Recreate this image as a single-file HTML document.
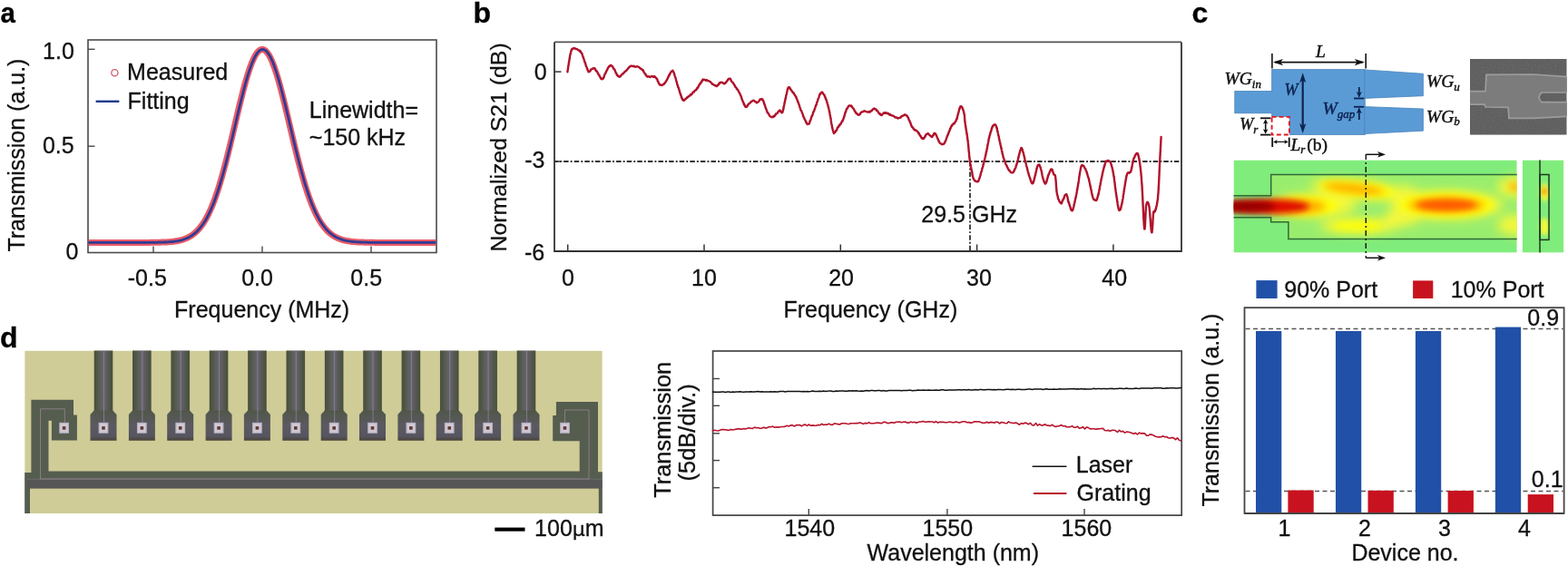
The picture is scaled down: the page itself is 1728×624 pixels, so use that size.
<!DOCTYPE html>
<html><head><meta charset="utf-8"><style>
html,body{margin:0;padding:0;background:#fff;width:1728px;height:624px;overflow:hidden}
svg{display:block;font-family:'Liberation Sans',Arial,sans-serif}
</style></head><body>
<svg width="1728" height="624" viewBox="0 0 1728 624">
<rect width="1728" height="624" fill="#fff"/>
<text x="0.40" y="24.50" font-size="32" text-anchor="start" fill="#000" stroke="#000" stroke-width="0.3" font-weight="bold" textLength="16.4" lengthAdjust="spacingAndGlyphs">a</text>
<rect x="97" y="44" width="384" height="234.5" fill="none" stroke="#4a4a4a" stroke-width="1.6"/>
<line x1="97.00" y1="54.30" x2="104.50" y2="54.30" stroke="#4a4a4a" stroke-width="1.4" />
<line x1="97.00" y1="161.20" x2="104.50" y2="161.20" stroke="#4a4a4a" stroke-width="1.4" />
<line x1="97.00" y1="267.70" x2="104.50" y2="267.70" stroke="#4a4a4a" stroke-width="1.4" />
<line x1="169.00" y1="278.50" x2="169.00" y2="271.50" stroke="#4a4a4a" stroke-width="1.4" />
<line x1="289.00" y1="278.50" x2="289.00" y2="271.50" stroke="#4a4a4a" stroke-width="1.4" />
<line x1="409.00" y1="278.50" x2="409.00" y2="271.50" stroke="#4a4a4a" stroke-width="1.4" />
<text x="47.12" y="64.50" font-size="25" text-anchor="start" fill="#111" stroke="#111" stroke-width="0.3" >1.0</text>
<text x="46.95" y="169.40" font-size="25" text-anchor="start" fill="#111" stroke="#111" stroke-width="0.3" >0.5</text>
<text x="72.62" y="286.20" font-size="25" text-anchor="start" fill="#111" stroke="#111" stroke-width="0.3" >0</text>
<text x="140.80" y="314.60" font-size="25" text-anchor="start" fill="#111" stroke="#111" stroke-width="0.3" >-0.5</text>
<text x="266.23" y="314.60" font-size="25" text-anchor="start" fill="#111" stroke="#111" stroke-width="0.3" >0.0</text>
<text x="386.32" y="314.60" font-size="25" text-anchor="start" fill="#111" stroke="#111" stroke-width="0.3" >0.5</text>
<text x="192.10" y="350.00" font-size="25" text-anchor="start" fill="#111" stroke="#111" stroke-width="0.3" >Frequency (MHz)</text>
<text transform="translate(26.60,277.60) rotate(-90)" font-size="25" fill="#111" stroke="#111" stroke-width="0.3">Transmission (a.u.)</text>
<circle cx="126.4" cy="80.2" r="3.6" fill="none" stroke="#d05a68" stroke-width="1.3"/>
<text x="140.10" y="88.40" font-size="25" text-anchor="start" fill="#111" stroke="#111" stroke-width="0.3" >Measured</text>
<line x1="105.60" y1="111.80" x2="131.40" y2="111.80" stroke="#1f3b8c" stroke-width="2.4" />
<text x="140.60" y="120.00" font-size="25" text-anchor="start" fill="#111" stroke="#111" stroke-width="0.3" >Fitting</text>
<text x="340.80" y="130.00" font-size="25" text-anchor="start" fill="#111" stroke="#111" stroke-width="0.3" >Linewidth=</text>
<text x="340.80" y="159.50" font-size="25" text-anchor="start" fill="#111" stroke="#111" stroke-width="0.3" >~150 kHz</text>
<defs><clipPath id="ca"><rect x="97.8" y="44.8" width="382.4" height="233"/></clipPath></defs>
<g clip-path="url(#ca)">
<polyline points="97.0,267.4 98.0,267.4 99.0,267.4 100.0,267.4 101.0,267.4 102.0,267.4 103.0,267.4 104.0,267.4 105.0,267.4 106.0,267.4 107.0,267.4 108.0,267.4 109.0,267.4 110.0,267.4 111.0,267.4 112.0,267.4 113.0,267.4 114.0,267.4 115.0,267.4 116.0,267.4 117.0,267.4 118.0,267.4 119.0,267.4 120.0,267.4 121.0,267.4 122.0,267.4 123.0,267.4 124.0,267.4 125.0,267.4 126.0,267.4 127.0,267.4 128.0,267.4 129.0,267.4 130.0,267.4 131.0,267.4 132.0,267.4 133.0,267.4 134.0,267.4 135.0,267.4 136.0,267.4 137.0,267.4 138.0,267.4 139.0,267.4 140.0,267.4 141.0,267.4 142.0,267.4 143.0,267.4 144.0,267.4 145.0,267.4 146.0,267.4 147.0,267.4 148.0,267.4 149.0,267.4 150.0,267.4 151.0,267.4 152.0,267.4 153.0,267.4 154.0,267.4 155.0,267.4 156.0,267.4 157.0,267.4 158.0,267.4 159.0,267.4 160.0,267.4 161.0,267.4 162.0,267.4 163.0,267.4 164.0,267.4 165.0,267.4 166.0,267.3 167.0,267.3 168.0,267.3 169.0,267.3 170.0,267.3 171.0,267.3 172.0,267.3 173.0,267.3 174.0,267.2 175.0,267.2 176.0,267.2 177.0,267.2 178.0,267.1 179.0,267.1 180.0,267.1 181.0,267.0 182.0,267.0 183.0,266.9 184.0,266.9 185.0,266.8 186.0,266.7 187.0,266.7 188.0,266.6 189.0,266.5 190.0,266.4 191.0,266.3 192.0,266.1 193.0,266.0 194.0,265.8 195.0,265.7 196.0,265.5 197.0,265.3 198.0,265.1 199.0,264.8 200.0,264.6 201.0,264.3 202.0,263.9 203.0,263.6 204.0,263.2 205.0,262.8 206.0,262.4 207.0,261.9 208.0,261.4 209.0,260.9 210.0,260.3 211.0,259.7 212.0,259.0 213.0,258.2 214.0,257.5 215.0,256.6 216.0,255.7 217.0,254.8 218.0,253.7 219.0,252.6 220.0,251.5 221.0,250.2 222.0,248.9 223.0,247.5 224.0,246.1 225.0,244.5 226.0,242.9 227.0,241.2 228.0,239.3 229.0,237.4 230.0,235.4 231.0,233.3 232.0,231.1 233.0,228.8 234.0,226.4 235.0,223.9 236.0,221.3 237.0,218.6 238.0,215.8 239.0,212.8 240.0,209.8 241.0,206.7 242.0,203.5 243.0,200.1 244.0,196.7 245.0,193.2 246.0,189.6 247.0,185.9 248.0,182.2 249.0,178.3 250.0,174.4 251.0,170.4 252.0,166.4 253.0,162.3 254.0,158.1 255.0,154.0 256.0,149.7 257.0,145.5 258.0,141.3 259.0,137.0 260.0,132.7 261.0,128.5 262.0,124.3 263.0,120.1 264.0,115.9 265.0,111.8 266.0,107.8 267.0,103.8 268.0,100.0 269.0,96.2 270.0,92.5 271.0,88.9 272.0,85.5 273.0,82.2 274.0,79.1 275.0,76.1 276.0,73.2 277.0,70.6 278.0,68.1 279.0,65.8 280.0,63.7 281.0,61.8 282.0,60.1 283.0,58.6 284.0,57.4 285.0,56.3 286.0,55.5 287.0,55.0 288.0,54.6 289.0,54.5 290.0,54.6 291.0,55.0 292.0,55.5 293.0,56.3 294.0,57.4 295.0,58.6 296.0,60.1 297.0,61.8 298.0,63.7 299.0,65.8 300.0,68.1 301.0,70.6 302.0,73.2 303.0,76.1 304.0,79.1 305.0,82.2 306.0,85.5 307.0,88.9 308.0,92.5 309.0,96.2 310.0,100.0 311.0,103.8 312.0,107.8 313.0,111.8 314.0,115.9 315.0,120.1 316.0,124.3 317.0,128.5 318.0,132.7 319.0,137.0 320.0,141.3 321.0,145.5 322.0,149.7 323.0,154.0 324.0,158.1 325.0,162.3 326.0,166.4 327.0,170.4 328.0,174.4 329.0,178.3 330.0,182.2 331.0,185.9 332.0,189.6 333.0,193.2 334.0,196.7 335.0,200.1 336.0,203.5 337.0,206.7 338.0,209.8 339.0,212.8 340.0,215.8 341.0,218.6 342.0,221.3 343.0,223.9 344.0,226.4 345.0,228.8 346.0,231.1 347.0,233.3 348.0,235.4 349.0,237.4 350.0,239.3 351.0,241.2 352.0,242.9 353.0,244.5 354.0,246.1 355.0,247.5 356.0,248.9 357.0,250.2 358.0,251.5 359.0,252.6 360.0,253.7 361.0,254.8 362.0,255.7 363.0,256.6 364.0,257.5 365.0,258.2 366.0,259.0 367.0,259.7 368.0,260.3 369.0,260.9 370.0,261.4 371.0,261.9 372.0,262.4 373.0,262.8 374.0,263.2 375.0,263.6 376.0,263.9 377.0,264.3 378.0,264.6 379.0,264.8 380.0,265.1 381.0,265.3 382.0,265.5 383.0,265.7 384.0,265.8 385.0,266.0 386.0,266.1 387.0,266.3 388.0,266.4 389.0,266.5 390.0,266.6 391.0,266.7 392.0,266.7 393.0,266.8 394.0,266.9 395.0,266.9 396.0,267.0 397.0,267.0 398.0,267.1 399.0,267.1 400.0,267.1 401.0,267.2 402.0,267.2 403.0,267.2 404.0,267.2 405.0,267.3 406.0,267.3 407.0,267.3 408.0,267.3 409.0,267.3 410.0,267.3 411.0,267.3 412.0,267.3 413.0,267.4 414.0,267.4 415.0,267.4 416.0,267.4 417.0,267.4 418.0,267.4 419.0,267.4 420.0,267.4 421.0,267.4 422.0,267.4 423.0,267.4 424.0,267.4 425.0,267.4 426.0,267.4 427.0,267.4 428.0,267.4 429.0,267.4 430.0,267.4 431.0,267.4 432.0,267.4 433.0,267.4 434.0,267.4 435.0,267.4 436.0,267.4 437.0,267.4 438.0,267.4 439.0,267.4 440.0,267.4 441.0,267.4 442.0,267.4 443.0,267.4 444.0,267.4 445.0,267.4 446.0,267.4 447.0,267.4 448.0,267.4 449.0,267.4 450.0,267.4 451.0,267.4 452.0,267.4 453.0,267.4 454.0,267.4 455.0,267.4 456.0,267.4 457.0,267.4 458.0,267.4 459.0,267.4 460.0,267.4 461.0,267.4 462.0,267.4 463.0,267.4 464.0,267.4 465.0,267.4 466.0,267.4 467.0,267.4 468.0,267.4 469.0,267.4 470.0,267.4 471.0,267.4 472.0,267.4 473.0,267.4 474.0,267.4 475.0,267.4 476.0,267.4 477.0,267.4 478.0,267.4 479.0,267.4 480.0,267.4 481.0,267.4" fill="none" stroke="#e5404e" stroke-width="7.0" stroke-linejoin="round" stroke-linecap="round" opacity="0.85"/>
<polyline points="97.4,267.4 98.4,267.4 99.4,267.4 100.4,267.4 101.4,267.4 102.4,267.4 103.4,267.4 104.4,267.4 105.4,267.4 106.4,267.4 107.4,267.4 108.4,267.4 109.4,267.4 110.4,267.4 111.4,267.4 112.4,267.4 113.4,267.4 114.4,267.4 115.4,267.4 116.4,267.4 117.4,267.4 118.4,267.4 119.4,267.4 120.4,267.4 121.4,267.4 122.4,267.4 123.4,267.4 124.4,267.4 125.4,267.4 126.4,267.4 127.4,267.4 128.4,267.4 129.4,267.4 130.4,267.4 131.4,267.4 132.4,267.4 133.4,267.4 134.4,267.4 135.4,267.4 136.4,267.4 137.4,267.4 138.4,267.4 139.4,267.4 140.4,267.4 141.4,267.4 142.4,267.4 143.4,267.4 144.4,267.4 145.4,267.4 146.4,267.4 147.4,267.4 148.4,267.4 149.4,267.4 150.4,267.4 151.4,267.4 152.4,267.4 153.4,267.4 154.4,267.4 155.4,267.4 156.4,267.4 157.4,267.4 158.4,267.4 159.4,267.4 160.4,267.4 161.4,267.4 162.4,267.4 163.4,267.4 164.4,267.4 165.4,267.4 166.4,267.3 167.4,267.3 168.4,267.3 169.4,267.3 170.4,267.3 171.4,267.3 172.4,267.3 173.4,267.3 174.4,267.2 175.4,267.2 176.4,267.2 177.4,267.2 178.4,267.1 179.4,267.1 180.4,267.1 181.4,267.0 182.4,267.0 183.4,266.9 184.4,266.9 185.4,266.8 186.4,266.7 187.4,266.7 188.4,266.6 189.4,266.5 190.4,266.4 191.4,266.3 192.4,266.1 193.4,266.0 194.4,265.8 195.4,265.7 196.4,265.5 197.4,265.3 198.4,265.1 199.4,264.8 200.4,264.6 201.4,264.3 202.4,263.9 203.4,263.6 204.4,263.2 205.4,262.8 206.4,262.4 207.4,261.9 208.4,261.4 209.4,260.9 210.4,260.3 211.4,259.7 212.4,259.0 213.4,258.2 214.4,257.5 215.4,256.6 216.4,255.7 217.4,254.8 218.4,253.7 219.4,252.6 220.4,251.5 221.4,250.2 222.4,248.9 223.4,247.5 224.4,246.1 225.4,244.5 226.4,242.9 227.4,241.2 228.4,239.3 229.4,237.4 230.4,235.4 231.4,233.3 232.4,231.1 233.4,228.8 234.4,226.4 235.4,223.9 236.4,221.3 237.4,218.6 238.4,215.8 239.4,212.8 240.4,209.8 241.4,206.7 242.4,203.5 243.4,200.1 244.4,196.7 245.4,193.2 246.4,189.6 247.4,185.9 248.4,182.2 249.4,178.3 250.4,174.4 251.4,170.4 252.4,166.4 253.4,162.3 254.4,158.1 255.4,154.0 256.4,149.7 257.4,145.5 258.4,141.3 259.4,137.0 260.4,132.7 261.4,128.5 262.4,124.3 263.4,120.1 264.4,115.9 265.4,111.8 266.4,107.8 267.4,103.8 268.4,100.0 269.4,96.2 270.4,92.5 271.4,88.9 272.4,85.5 273.4,82.2 274.4,79.1 275.4,76.1 276.4,73.2 277.4,70.6 278.4,68.1 279.4,65.8 280.4,63.7 281.4,61.8 282.4,60.1 283.4,58.6 284.4,57.4 285.4,56.3 286.4,55.5 287.4,55.0 288.4,54.6 289.4,54.5 290.4,54.6 291.4,55.0 292.4,55.5 293.4,56.3 294.4,57.4 295.4,58.6 296.4,60.1 297.4,61.8 298.4,63.7 299.4,65.8 300.4,68.1 301.4,70.6 302.4,73.2 303.4,76.1 304.4,79.1 305.4,82.2 306.4,85.5 307.4,88.9 308.4,92.5 309.4,96.2 310.4,100.0 311.4,103.8 312.4,107.8 313.4,111.8 314.4,115.9 315.4,120.1 316.4,124.3 317.4,128.5 318.4,132.7 319.4,137.0 320.4,141.3 321.4,145.5 322.4,149.7 323.4,154.0 324.4,158.1 325.4,162.3 326.4,166.4 327.4,170.4 328.4,174.4 329.4,178.3 330.4,182.2 331.4,185.9 332.4,189.6 333.4,193.2 334.4,196.7 335.4,200.1 336.4,203.5 337.4,206.7 338.4,209.8 339.4,212.8 340.4,215.8 341.4,218.6 342.4,221.3 343.4,223.9 344.4,226.4 345.4,228.8 346.4,231.1 347.4,233.3 348.4,235.4 349.4,237.4 350.4,239.3 351.4,241.2 352.4,242.9 353.4,244.5 354.4,246.1 355.4,247.5 356.4,248.9 357.4,250.2 358.4,251.5 359.4,252.6 360.4,253.7 361.4,254.8 362.4,255.7 363.4,256.6 364.4,257.5 365.4,258.2 366.4,259.0 367.4,259.7 368.4,260.3 369.4,260.9 370.4,261.4 371.4,261.9 372.4,262.4 373.4,262.8 374.4,263.2 375.4,263.6 376.4,263.9 377.4,264.3 378.4,264.6 379.4,264.8 380.4,265.1 381.4,265.3 382.4,265.5 383.4,265.7 384.4,265.8 385.4,266.0 386.4,266.1 387.4,266.3 388.4,266.4 389.4,266.5 390.4,266.6 391.4,266.7 392.4,266.7 393.4,266.8 394.4,266.9 395.4,266.9 396.4,267.0 397.4,267.0 398.4,267.1 399.4,267.1 400.4,267.1 401.4,267.2 402.4,267.2 403.4,267.2 404.4,267.2 405.4,267.3 406.4,267.3 407.4,267.3 408.4,267.3 409.4,267.3 410.4,267.3 411.4,267.3 412.4,267.3 413.4,267.4 414.4,267.4 415.4,267.4 416.4,267.4 417.4,267.4 418.4,267.4 419.4,267.4 420.4,267.4 421.4,267.4 422.4,267.4 423.4,267.4 424.4,267.4 425.4,267.4 426.4,267.4 427.4,267.4 428.4,267.4 429.4,267.4 430.4,267.4 431.4,267.4 432.4,267.4 433.4,267.4 434.4,267.4 435.4,267.4 436.4,267.4 437.4,267.4 438.4,267.4 439.4,267.4 440.4,267.4 441.4,267.4 442.4,267.4 443.4,267.4 444.4,267.4 445.4,267.4 446.4,267.4 447.4,267.4 448.4,267.4 449.4,267.4 450.4,267.4 451.4,267.4 452.4,267.4 453.4,267.4 454.4,267.4 455.4,267.4 456.4,267.4 457.4,267.4 458.4,267.4 459.4,267.4 460.4,267.4 461.4,267.4 462.4,267.4 463.4,267.4 464.4,267.4 465.4,267.4 466.4,267.4 467.4,267.4 468.4,267.4 469.4,267.4 470.4,267.4 471.4,267.4 472.4,267.4 473.4,267.4 474.4,267.4 475.4,267.4 476.4,267.4 477.4,267.4 478.4,267.4 479.4,267.4 480.4,267.4 481.4,267.4" fill="none" stroke="#2f3a94" stroke-width="2.8" stroke-linejoin="round" stroke-linecap="round" />
</g>
<text x="521.62" y="24.50" font-size="32" text-anchor="start" fill="#000" stroke="#000" stroke-width="0.3" font-weight="bold">b</text>
<line x1="611.00" y1="46.40" x2="1302.00" y2="46.40" stroke="#555" stroke-width="1.8" />
<path d="M611,46.4 L611,277 L1302,277 L1302,46.4" fill="none" stroke="#333" stroke-width="1.8"/>
<line x1="611.00" y1="79.10" x2="618.50" y2="79.10" stroke="#333" stroke-width="1.5" />
<line x1="611.00" y1="178.00" x2="618.50" y2="178.00" stroke="#333" stroke-width="1.5" />
<line x1="625.70" y1="277.00" x2="625.70" y2="269.50" stroke="#333" stroke-width="1.5" />
<line x1="776.00" y1="277.00" x2="776.00" y2="269.50" stroke="#333" stroke-width="1.5" />
<line x1="926.30" y1="277.00" x2="926.30" y2="269.50" stroke="#333" stroke-width="1.5" />
<line x1="1076.60" y1="277.00" x2="1076.60" y2="269.50" stroke="#333" stroke-width="1.5" />
<line x1="1226.90" y1="277.00" x2="1226.90" y2="269.50" stroke="#333" stroke-width="1.5" />
<text x="588.73" y="88.00" font-size="25" text-anchor="start" fill="#111" stroke="#111" stroke-width="0.3" >0</text>
<text x="578.30" y="185.00" font-size="25" text-anchor="start" fill="#111" stroke="#111" stroke-width="0.3" >-3</text>
<text x="577.90" y="286.60" font-size="25" text-anchor="start" fill="#111" stroke="#111" stroke-width="0.3" >-6</text>
<text x="618.96" y="314.80" font-size="25" text-anchor="start" fill="#111" stroke="#111" stroke-width="0.3" >0</text>
<text x="762.12" y="314.80" font-size="25" text-anchor="start" fill="#111" stroke="#111" stroke-width="0.3" >10</text>
<text x="913.14" y="314.80" font-size="25" text-anchor="start" fill="#111" stroke="#111" stroke-width="0.3" >20</text>
<text x="1065.12" y="314.80" font-size="25" text-anchor="start" fill="#111" stroke="#111" stroke-width="0.3" >30</text>
<text x="1214.31" y="314.80" font-size="25" text-anchor="start" fill="#111" stroke="#111" stroke-width="0.3" >40</text>
<text x="863.50" y="349.90" font-size="25" text-anchor="start" fill="#111" stroke="#111" stroke-width="0.3" >Frequency (GHz)</text>
<text transform="translate(558.40,277.48) rotate(-90)" font-size="24.8" fill="#111" stroke="#111" stroke-width="0.3">Normalized S21 (dB)</text>
<line x1="611.00" y1="178.00" x2="1302.00" y2="178.00" stroke="#333" stroke-width="1.8" stroke-dasharray="5.5 2.1 1.9 2.1" stroke-dashoffset="1.5"/>
<line x1="1069.00" y1="178.00" x2="1069.00" y2="277.00" stroke="#333" stroke-width="1.8" stroke-dasharray="5.5 2.1 1.9 2.1"/>
<text x="1015.35" y="245.30" font-size="25" text-anchor="start" fill="#111" stroke="#111" stroke-width="0.3" >29.5 GHz</text>
<polyline points="625.4,79.2 625.5,78.6 625.5,78.7 625.6,77.6 625.7,77.6 625.8,76.8 625.9,75.8 626.0,75.6 626.1,74.4 626.2,74.1 626.3,72.9 626.4,72.1 626.6,71.7 626.7,71.3 626.8,69.7 626.9,68.9 627.1,68.5 627.2,68.0 627.3,66.8 627.5,65.8 627.6,65.6 627.7,63.8 627.9,63.9 628.0,62.5 628.1,61.7 628.2,61.0 628.4,60.6 628.5,60.6 628.6,59.3 628.7,59.3 629.0,58.0 629.3,56.7 629.6,56.0 629.8,54.8 630.1,54.3 630.4,54.0 630.7,54.2 631.1,53.7 631.5,53.3 632.1,53.4 632.8,53.3 633.5,53.2 634.3,54.0 635.1,54.1 635.9,54.0 636.6,54.7 637.3,55.0 637.9,55.7 638.4,55.9 638.9,55.7 639.3,56.9 639.8,56.4 640.2,57.3 640.7,58.5 641.2,58.8 641.4,59.7 641.7,59.7 641.9,61.0 642.1,61.7 642.4,62.2 642.6,63.2 642.9,63.3 643.2,64.5 643.4,65.1 643.7,65.9 643.9,66.5 644.2,67.7 644.4,68.6 644.7,68.8 644.9,69.8 645.2,69.8 645.4,71.2 645.6,71.7 645.8,72.7 646.0,73.1 646.4,73.5 646.7,74.5 647.0,75.7 647.3,75.8 647.5,77.0 647.8,77.4 648.0,77.9 648.3,78.3 648.5,79.4 648.8,79.0 649.4,79.1 650.0,78.7 650.5,78.4 651.1,76.7 651.7,76.4 652.4,76.0 653.2,75.8 653.9,75.3 654.6,75.4 655.0,75.0 655.5,75.5 655.9,76.0 656.3,77.2 656.8,78.1 657.5,78.1 657.8,78.6 658.2,79.3 658.6,80.0 659.0,81.0 659.4,81.9 659.9,82.3 660.3,82.8 660.8,84.1 661.3,84.7 661.7,85.6 662.1,86.6 662.6,86.8 662.9,86.9 663.3,87.2 663.8,87.3 664.2,86.3 664.6,86.8 665.0,86.0 665.4,85.3 665.7,84.3 666.1,82.9 666.5,82.0 667.0,80.9 667.3,80.9 667.7,79.6 668.0,79.0 668.4,78.4 668.7,77.6 669.1,77.1 669.5,76.0 669.9,75.2 670.2,74.7 670.6,74.0 671.0,73.7 671.3,72.9 671.7,73.4 672.0,72.8 672.7,71.9 673.3,72.0 673.9,72.3 674.4,72.9 675.1,73.3 675.8,75.0 676.1,75.6 676.5,75.6 676.8,76.2 677.2,76.5 677.6,77.3 677.9,78.4 678.3,79.1 678.7,80.5 679.1,80.6 679.5,81.2 679.9,82.9 680.3,83.0 680.7,83.1 681.1,84.0 681.5,83.7 682.1,84.4 682.8,84.8 683.4,84.4 684.1,83.8 684.7,82.7 685.4,82.2 686.0,81.3 686.7,81.3 687.3,80.4 687.8,80.2 688.4,79.2 688.9,78.6 689.4,78.6 689.9,78.2 690.5,77.5 691.0,76.8 691.5,76.3 692.0,75.7 692.5,74.7 693.0,74.6 693.7,73.9 694.4,73.1 695.1,72.8 695.7,72.8 696.4,72.6 697.1,72.9 697.9,73.2 698.6,72.7 699.3,73.3 700.1,73.6 700.9,73.7 701.7,73.3 702.5,73.4 703.3,73.7 704.0,74.0 704.6,74.3 705.4,75.1 706.1,75.8 706.7,76.2 707.3,76.3 707.9,77.0 708.5,77.8 708.9,77.6 709.3,78.9 709.8,79.8 710.2,80.4 710.6,81.1 711.0,81.6 711.5,81.9 711.9,83.2 712.3,83.1 713.0,84.2 713.8,84.7 714.5,84.3 715.3,84.4 716.2,85.1 716.8,84.9 717.6,84.2 718.3,84.1 719.1,84.0 719.9,84.8 720.6,84.7 721.3,84.0 721.9,85.0 722.5,85.5 722.9,85.7 723.3,86.0 723.7,86.9 724.1,87.2 724.4,87.8 724.8,89.5 725.2,89.8 725.5,90.3 725.8,91.5 726.2,91.7 726.5,92.8 726.9,93.4 727.3,93.2 727.7,93.5 728.4,93.8 729.2,93.8 729.9,94.0 730.7,93.2 731.5,92.8 731.9,92.1 732.3,92.4 732.8,91.3 733.2,90.8 733.6,90.2 734.0,89.9 734.5,88.6 734.9,88.4 735.4,87.1 735.7,86.6 736.1,85.9 736.4,84.7 736.8,84.4 737.1,83.4 737.5,82.5 737.9,82.6 738.2,81.2 738.6,80.8 738.9,80.5 739.3,79.7 739.6,79.0 739.9,78.8 740.2,78.6 740.9,78.4 741.4,77.7 741.8,78.7 742.3,79.4 743.0,81.1 743.2,82.0 743.3,82.2 743.5,82.8 743.7,83.6 743.9,84.3 744.1,84.5 744.3,85.3 744.5,85.9 744.7,86.6 744.9,87.6 745.1,88.1 745.3,88.9 745.5,89.6 745.8,90.9 746.0,91.5 746.2,92.4 746.4,93.3 746.6,93.3 746.8,94.4 747.1,95.5 747.3,96.1 747.5,96.0 747.7,96.7 747.9,97.6 748.2,98.0 748.4,99.0 748.7,99.6 748.9,101.0 749.2,101.9 749.5,102.9 749.7,102.8 750.0,104.2 750.2,104.9 750.5,105.1 750.8,106.6 751.0,107.3 751.3,107.1 751.5,108.5 751.8,108.5 752.0,109.1 752.2,110.0 752.5,110.3 752.7,109.8 753.4,110.7 754.0,110.8 754.5,110.2 755.1,109.3 755.8,108.8 756.5,108.5 757.0,107.4 757.5,107.6 758.1,107.0 758.7,106.1 759.3,106.0 759.9,105.8 760.5,105.1 761.1,104.1 761.7,104.6 762.3,103.8 762.8,103.5 763.3,102.1 763.9,101.8 764.4,101.1 764.9,101.4 765.4,100.3 765.9,99.7 766.4,99.4 767.0,99.4 767.5,98.7 768.0,97.4 768.4,96.8 768.9,97.0 769.3,96.0 769.8,95.4 770.2,94.0 770.7,93.3 771.1,93.3 771.6,92.3 772.0,91.2 772.4,91.5 772.8,90.6 773.2,90.2 773.5,88.9 773.8,89.4 774.6,87.5 775.0,88.2 775.8,87.8 776.3,87.8 776.9,88.1 777.6,88.7 778.3,88.2 779.1,88.3 779.8,89.1 780.7,89.1 781.5,89.4 782.0,89.7 782.6,90.0 783.2,90.6 783.8,91.3 784.4,91.8 785.1,92.8 785.7,92.8 786.4,93.5 787.0,93.6 787.6,94.2 788.2,94.2 788.7,94.6 789.2,94.5 789.9,95.2 790.5,94.7 791.0,93.8 791.5,93.5 792.0,93.3 792.5,91.7 793.0,91.9 793.5,91.0 794.0,90.8 794.8,91.1 795.6,90.8 796.4,91.3 797.2,91.8 798.0,92.4 798.8,91.5 799.4,91.7 799.9,91.1 800.5,90.4 801.1,89.4 801.7,88.7 802.2,87.7 802.8,87.2 803.2,86.7 803.7,87.2 804.3,86.6 804.7,86.7 805.1,87.2 805.7,88.9 806.5,90.2 806.8,90.4 807.1,90.4 807.5,90.9 807.9,91.5 808.3,92.2 808.7,92.5 809.1,93.5 809.6,93.9 810.1,95.4 810.5,96.0 811.0,96.3 811.4,96.6 811.9,98.1 812.3,98.0 812.7,98.8 813.2,99.0 813.5,100.0 813.9,100.7 814.2,101.3 814.6,101.7 815.0,102.8 815.3,103.0 815.7,104.0 815.9,104.4 816.2,105.4 816.5,105.7 816.7,106.3 817.0,107.3 817.2,107.8 817.4,108.8 817.7,109.4 818.0,110.3 818.3,110.9 818.6,111.7 819.0,112.7 819.3,112.9 819.6,113.7 819.9,115.2 820.3,115.0 820.6,116.3 820.9,116.8 821.2,116.6 821.6,117.8 821.9,118.1 822.5,117.9 823.0,117.7 823.6,117.1 824.1,115.6 824.7,115.2 825.2,114.4 825.8,114.2 826.4,113.6 827.0,113.0 827.6,112.1 828.3,112.0 828.9,111.4 829.6,111.2 830.2,110.8 830.9,110.9 831.6,111.4 832.3,112.1 833.0,112.2 833.7,113.3 834.4,113.0 835.0,112.8 835.6,112.3 836.3,111.7 836.9,110.8 837.5,109.5 838.1,109.8 838.7,109.4 839.2,109.0 839.6,109.2 840.0,109.6 840.4,109.4 840.7,110.8 841.0,110.9 841.3,111.5 841.7,112.6 842.1,114.1 842.3,114.0 842.5,115.2 842.8,116.0 843.0,116.2 843.2,116.7 843.4,117.6 843.7,118.6 843.9,119.4 844.2,120.0 844.4,120.8 844.7,120.9 844.9,121.6 845.2,122.4 845.5,123.6 845.7,123.7 846.0,124.5 846.5,124.7 847.0,125.5 847.5,126.5 848.1,127.6 848.6,128.2 849.2,128.6 849.7,128.6 850.3,129.1 850.8,129.2 851.4,129.1 852.0,128.4 852.6,128.8 853.3,127.5 853.9,127.7 854.5,127.0 855.0,125.4 855.6,125.4 856.2,125.2 856.8,124.7 857.3,123.6 857.9,122.8 858.4,122.2 858.9,122.6 859.4,121.6 860.2,122.5 860.8,123.2 861.5,124.3 862.3,124.0 862.4,122.7 862.6,123.1 862.7,122.3 862.9,122.1 863.0,121.4 863.2,120.2 863.4,120.3 863.5,119.1 863.7,117.8 863.8,117.0 864.0,116.8 864.2,115.9 864.3,114.9 864.5,113.9 864.7,113.3 864.8,112.4 865.0,112.2 865.2,110.5 865.3,110.5 865.5,109.8 865.6,108.3 865.8,108.5 865.9,107.6 866.1,107.2 866.2,106.0 866.4,105.1 866.6,104.2 866.9,103.9 867.0,102.6 867.2,101.5 867.4,100.7 867.6,99.8 867.8,98.8 868.0,98.2 868.2,98.4 868.3,97.3 868.6,97.6 868.8,96.5 869.0,96.2 869.5,96.3 870.0,96.2 870.5,96.9 871.1,98.3 871.7,99.0 872.3,99.9 872.9,100.5 873.3,101.3 873.6,101.9 874.0,101.9 874.4,102.6 874.8,102.5 875.2,103.8 875.6,104.1 876.0,105.1 876.4,105.7 876.8,106.1 877.3,106.7 877.7,108.6 877.9,108.2 878.2,109.1 878.4,109.6 878.6,110.1 878.9,111.2 879.1,112.1 879.4,112.0 879.6,113.1 879.9,113.4 880.1,114.4 880.4,115.0 880.6,115.4 880.9,116.2 881.1,116.9 881.4,118.4 881.6,118.7 881.9,119.1 882.2,120.6 882.4,121.4 882.7,121.5 883.0,121.8 883.2,122.5 883.5,123.0 883.8,124.0 884.1,124.5 884.4,125.4 884.7,126.2 885.1,127.4 885.4,128.6 885.7,129.2 886.1,129.7 886.4,130.5 886.7,131.4 887.1,132.0 887.4,132.7 887.7,133.1 888.1,134.0 888.4,135.3 888.7,134.9 889.0,135.8 889.3,136.4 889.6,136.9 889.9,136.4 890.2,136.6 890.6,136.7 890.9,136.7 891.3,136.5 891.6,136.6 891.9,136.0 892.2,135.4 892.5,133.8 892.8,133.0 893.1,132.9 893.4,132.2 893.7,130.8 894.0,130.1 894.3,128.5 894.7,128.0 895.0,127.8 895.2,127.1 895.5,126.5 895.7,126.1 896.0,124.6 896.2,123.8 896.5,123.2 896.8,122.9 897.0,122.3 897.3,121.9 897.6,120.9 897.8,120.1 898.1,119.5 898.4,118.5 898.6,117.8 898.9,116.5 899.1,116.7 899.4,115.4 899.7,115.4 899.9,114.5 900.1,113.4 900.4,112.6 900.6,112.2 900.8,112.0 901.1,111.2 901.4,109.7 901.7,108.8 902.0,108.4 902.3,107.6 902.6,106.6 902.8,105.7 903.1,105.3 903.3,104.0 903.6,103.7 903.8,103.4 904.1,103.5 904.3,102.7 904.6,102.7 905.2,101.9 905.9,101.6 906.5,102.0 907.1,103.4 907.8,104.1 908.5,105.0 908.7,105.1 908.9,106.1 909.1,106.8 909.4,107.0 909.6,107.3 909.8,108.4 910.0,109.2 910.3,109.1 910.5,109.5 910.7,110.5 911.0,111.3 911.2,112.3 911.4,112.5 911.7,113.9 911.9,114.6 912.1,115.2 912.4,115.7 912.6,117.4 912.8,117.6 913.1,119.0 913.3,119.3 913.4,119.9 913.6,121.0 913.7,121.2 913.8,122.5 914.0,122.7 914.1,123.1 914.3,123.9 914.4,124.8 914.5,125.9 914.7,127.0 914.8,126.9 915.0,128.0 915.1,128.6 915.3,130.2 915.4,130.1 915.5,130.9 915.7,131.7 915.8,132.9 916.0,134.3 916.1,135.0 916.2,135.7 916.4,136.8 916.5,137.4 916.6,137.5 916.8,138.1 916.9,139.7 917.0,140.1 917.2,140.0 917.3,141.3 917.4,141.6 917.5,142.2 917.7,142.7 917.8,143.0 917.9,143.3 918.0,144.0 918.1,144.4 919.0,147.0 919.7,146.0 920.3,146.0 921.0,144.3 921.4,144.0 921.7,144.0 922.1,143.3 922.5,142.2 922.8,141.0 923.3,140.6 923.8,139.7 924.1,139.8 924.5,138.5 924.9,138.2 925.3,138.3 925.7,136.9 926.1,136.8 926.6,136.7 927.0,136.1 927.4,134.6 927.9,133.9 928.3,133.2 928.7,133.4 928.9,132.1 929.2,132.0 929.4,131.6 929.7,130.3 929.9,129.5 930.1,129.5 930.4,128.4 930.6,127.2 930.9,126.9 931.1,125.7 931.3,124.8 931.6,123.8 931.8,123.9 932.1,123.3 932.3,122.3 932.5,122.0 932.8,120.4 933.0,120.0 933.3,119.8 933.5,119.9 934.2,118.9 934.8,117.4 935.5,116.7 936.1,116.5 936.8,116.4 937.5,117.0 938.3,116.6 938.7,117.5 939.0,117.8 939.4,118.5 939.8,119.0 940.3,119.5 940.7,119.9 941.1,120.6 941.5,121.5 942.0,122.7 942.4,122.7 942.8,123.5 943.3,124.8 943.7,124.8 944.1,125.1 944.6,125.4 945.0,126.3 945.7,126.2 946.3,126.8 947.0,126.4 947.7,126.1 948.3,124.7 949.0,124.0 949.7,123.4 950.4,123.3 951.0,123.2 951.7,122.6 952.5,122.3 953.2,122.5 954.0,122.9 954.8,123.1 955.5,123.3 956.3,123.6 957.1,123.5 957.8,123.0 958.5,123.7 959.2,122.8 959.8,122.7 960.4,122.0 961.0,121.8 961.7,120.7 962.3,120.2 962.9,119.9 963.5,119.6 964.2,120.4 964.7,120.3 965.2,120.4 965.7,120.9 966.3,122.1 966.8,122.2 967.4,122.6 967.9,123.9 968.5,124.4 969.0,125.4 969.5,125.0 970.1,125.9 970.5,126.6 971.0,126.9 971.8,127.0 972.4,125.8 973.0,125.6 973.6,124.8 974.3,124.3 975.0,124.8 975.8,124.3 976.3,124.8 976.9,124.3 977.5,125.1 978.2,124.9 978.9,125.0 979.5,125.9 980.2,126.5 980.9,125.9 981.6,126.9 982.2,127.2 982.9,127.1 983.5,127.6 984.2,127.6 984.9,128.1 985.5,128.5 986.2,129.2 986.8,129.6 987.4,129.5 988.1,129.5 988.8,130.1 989.5,130.6 990.2,130.1 990.8,130.1 991.4,129.7 992.1,130.0 992.8,129.3 993.5,128.3 994.1,127.9 994.8,127.7 995.5,127.5 996.2,127.2 996.9,126.4 997.6,126.4 998.2,127.0 998.8,127.0 999.2,127.2 999.5,127.6 999.9,128.7 1000.2,128.5 1000.6,129.4 1000.9,129.8 1001.2,130.6 1001.6,131.8 1001.9,132.7 1002.2,132.8 1002.5,133.4 1002.9,134.8 1003.2,135.0 1003.5,135.6 1003.8,137.3 1004.1,137.5 1004.4,138.7 1004.7,138.9 1005.0,140.0 1005.3,140.1 1005.6,140.2 1006.2,140.9 1006.8,142.1 1007.4,142.8 1008.0,143.5 1008.5,142.9 1009.1,143.9 1009.6,143.9 1010.2,144.4 1010.7,144.5 1011.3,145.2 1011.7,145.9 1012.2,147.0 1012.7,146.7 1013.1,147.9 1013.6,148.9 1014.0,149.8 1014.5,149.7 1014.9,150.3 1015.4,151.8 1015.8,152.4 1016.3,152.2 1016.7,152.1 1017.1,153.2 1017.6,152.5 1018.1,152.7 1018.6,151.9 1019.1,151.4 1019.6,149.9 1020.0,149.7 1020.5,148.4 1021.0,147.9 1021.4,147.9 1021.9,147.7 1022.5,147.0 1023.1,147.4 1023.7,148.2 1024.4,149.0 1025.0,149.5 1025.6,149.8 1026.1,150.4 1026.7,151.0 1027.3,151.0 1027.9,149.4 1028.4,149.2 1028.9,148.5 1029.4,147.0 1030.0,147.5 1030.6,146.9 1030.9,147.7 1031.2,148.0 1031.5,148.6 1031.8,148.9 1032.1,149.7 1032.5,150.7 1032.8,151.3 1033.1,152.3 1033.4,152.9 1033.8,153.7 1034.1,154.0 1034.4,155.4 1034.8,155.9 1035.1,156.2 1035.4,157.2 1036.1,158.0 1036.8,158.3 1037.5,158.6 1038.1,159.3 1038.8,159.0 1039.5,158.9 1040.2,158.7 1040.5,158.0 1040.8,158.0 1041.1,157.5 1041.4,156.4 1041.6,156.5 1041.9,155.2 1042.2,155.1 1042.5,154.4 1042.8,153.3 1043.1,152.0 1043.4,151.7 1043.7,150.7 1043.9,150.6 1044.2,148.9 1044.5,149.0 1044.7,148.5 1045.0,147.6 1045.3,146.9 1045.6,145.5 1045.9,145.6 1046.2,144.3 1046.5,144.2 1046.8,143.4 1047.0,141.9 1047.3,142.0 1047.6,141.5 1047.9,140.0 1048.2,139.7 1048.5,139.5 1048.8,138.3 1049.2,138.5 1049.7,137.3 1050.2,137.4 1050.7,136.2 1051.2,136.2 1051.7,136.2 1052.2,134.9 1052.7,134.4 1053.2,133.9 1053.7,132.7 1053.9,131.9 1054.1,131.5 1054.3,130.8 1054.6,131.0 1054.8,130.0 1055.0,129.4 1055.2,127.8 1055.4,127.7 1055.6,126.1 1055.8,125.7 1056.1,125.0 1056.3,123.8 1056.5,123.6 1056.7,122.4 1056.9,121.7 1057.1,121.3 1057.3,119.7 1057.5,120.1 1057.7,119.1 1057.9,118.4 1058.1,118.4 1058.3,117.5 1058.5,118.0 1058.9,117.3 1059.3,117.2 1059.7,117.9 1060.1,118.0 1060.4,118.4 1060.8,119.8 1061.1,120.0 1061.5,121.8 1061.8,122.1 1062.1,123.5 1062.3,124.7 1062.4,124.9 1062.6,125.6 1062.7,125.8 1062.8,126.1 1062.8,126.7 1062.9,127.5 1063.0,128.7 1063.0,129.2 1063.1,130.0 1063.1,131.2 1063.2,131.2 1063.2,132.1 1063.3,133.4 1063.4,133.5 1063.5,134.4 1063.6,135.7 1063.7,136.0 1063.8,136.9 1063.9,137.4 1064.0,138.4 1064.0,139.0 1064.2,139.2 1064.3,140.3 1064.4,140.8 1064.5,141.1 1064.6,142.7 1064.7,142.6 1064.8,143.2 1064.9,143.8 1065.1,145.1 1065.2,146.1 1065.3,146.7 1065.4,147.0 1065.5,147.6 1065.6,148.1 1065.8,149.5 1065.9,150.2 1066.0,150.7 1066.1,151.8 1066.2,152.3 1066.3,153.6 1066.4,154.1 1066.5,154.3 1066.6,155.7 1066.7,155.4 1066.7,156.7 1066.8,157.2 1066.9,157.8 1067.0,158.3 1067.0,159.8 1067.1,159.7 1067.2,161.0 1067.3,162.2 1067.3,162.1 1067.4,162.9 1067.5,164.1 1067.5,164.8 1067.6,165.7 1067.7,166.6 1067.8,166.7 1067.8,167.6 1067.9,168.3 1068.0,168.7 1068.0,170.4 1068.1,171.0 1068.2,171.6 1068.2,171.5 1068.3,173.1 1068.4,173.6 1068.4,173.9 1068.5,174.9 1068.6,175.1 1068.6,175.5 1068.7,175.9 1068.8,177.0 1069.0,177.7 1069.1,178.9 1069.2,180.2 1069.4,180.9 1069.5,181.8 1069.6,182.4 1069.8,182.6 1069.9,183.5 1070.0,184.0 1070.1,185.0 1070.3,185.3 1070.4,185.7 1070.5,186.7 1070.7,187.7 1070.8,187.5 1071.0,189.0 1071.1,188.9 1071.3,190.0 1071.4,190.8 1071.5,192.1 1071.7,193.1 1071.8,193.7 1072.0,194.0 1072.2,195.3 1072.3,195.3 1072.5,195.9 1072.8,197.1 1073.0,197.3 1073.5,198.2 1074.1,198.8 1074.8,199.7 1075.5,199.6 1076.2,200.2 1076.8,200.2 1077.3,200.4 1077.8,199.8 1078.1,199.9 1078.4,199.3 1078.7,198.3 1079.1,197.3 1079.5,196.5 1079.7,195.5 1079.8,195.9 1080.0,194.5 1080.2,193.8 1080.3,193.3 1080.5,193.5 1080.7,192.2 1080.9,191.3 1081.1,190.5 1081.3,189.8 1081.5,189.7 1081.7,188.9 1081.9,188.2 1082.1,187.5 1082.3,186.0 1082.5,185.8 1082.7,184.8 1082.9,184.6 1083.1,183.9 1083.3,183.3 1083.4,181.7 1083.6,181.9 1083.8,181.3 1084.0,180.7 1084.1,179.1 1084.3,178.6 1084.5,177.8 1084.6,177.1 1084.8,177.3 1085.0,176.6 1085.2,175.7 1085.3,175.2 1085.5,174.3 1085.7,173.2 1085.8,172.3 1086.0,171.6 1086.2,171.6 1086.4,170.2 1086.5,169.6 1086.7,168.9 1086.8,167.8 1087.0,167.4 1087.1,166.8 1087.3,166.6 1087.4,165.5 1087.5,164.8 1087.7,164.7 1087.8,163.5 1087.9,163.2 1088.1,162.2 1088.2,160.8 1088.4,160.5 1088.5,159.7 1088.6,159.4 1088.8,158.2 1088.9,157.8 1089.1,156.9 1089.2,155.9 1089.3,155.9 1089.5,154.3 1089.6,154.5 1089.7,153.1 1089.9,152.3 1090.0,151.9 1090.2,151.9 1090.3,151.5 1090.5,149.6 1090.7,149.3 1091.0,148.5 1091.2,148.0 1091.4,146.5 1091.6,146.1 1091.9,145.2 1092.1,145.0 1092.3,143.7 1092.5,143.7 1092.7,142.4 1092.9,141.7 1093.1,141.6 1093.3,140.9 1093.5,140.0 1093.7,140.1 1093.9,139.0 1094.6,138.5 1095.1,137.7 1095.6,137.6 1096.1,137.4 1096.5,137.2 1096.9,137.4 1097.3,137.8 1097.7,139.1 1098.2,139.7 1098.3,141.1 1098.5,140.6 1098.6,141.3 1098.7,141.9 1098.9,143.2 1099.0,143.4 1099.2,143.9 1099.3,145.2 1099.5,145.1 1099.7,146.1 1099.8,146.9 1100.0,147.9 1100.2,148.7 1100.3,149.4 1100.5,149.8 1100.7,150.6 1100.8,151.2 1101.0,152.7 1101.2,153.3 1101.3,154.1 1101.5,154.2 1101.6,155.2 1101.8,156.3 1102.0,156.8 1102.1,157.0 1102.3,158.1 1102.4,159.3 1102.6,159.3 1102.7,159.9 1102.9,160.8 1103.1,162.0 1103.2,162.9 1103.4,162.8 1103.5,163.6 1103.7,164.4 1103.8,165.2 1104.0,166.1 1104.1,166.4 1104.3,167.3 1104.5,167.8 1104.6,169.4 1104.8,169.7 1104.9,169.7 1105.1,171.2 1105.2,170.9 1105.4,171.8 1105.6,173.3 1105.9,173.9 1106.1,174.6 1106.3,175.0 1106.6,175.5 1106.8,176.6 1107.0,176.7 1107.3,177.5 1107.5,178.3 1107.7,178.6 1108.0,179.6 1108.2,180.6 1108.5,181.1 1108.7,181.4 1109.0,182.1 1109.3,182.7 1109.7,183.1 1110.1,184.3 1110.4,184.8 1110.8,185.8 1111.2,186.7 1111.6,186.8 1112.0,187.5 1112.3,188.2 1112.7,188.4 1113.1,188.6 1113.4,189.4 1114.2,190.2 1114.9,190.4 1115.6,190.4 1116.3,190.3 1117.0,189.4 1117.3,189.0 1117.6,188.3 1117.8,187.7 1118.1,187.4 1118.4,186.2 1118.7,185.9 1119.0,185.6 1119.3,184.8 1119.5,183.9 1119.8,182.7 1120.1,182.1 1120.3,181.3 1120.6,180.7 1120.8,179.9 1121.0,179.5 1121.2,179.1 1121.3,177.6 1121.5,177.4 1121.7,176.8 1121.9,175.6 1122.1,175.0 1122.2,174.8 1122.4,173.0 1122.6,172.8 1122.7,171.7 1122.9,171.7 1123.0,171.2 1123.2,170.1 1123.4,169.1 1123.5,169.1 1123.8,168.0 1124.1,167.1 1124.3,165.9 1124.6,165.2 1124.8,164.7 1125.1,163.8 1125.3,163.3 1125.6,163.8 1125.9,163.1 1126.1,163.9 1126.4,164.1 1126.6,165.2 1126.9,165.3 1127.1,167.2 1127.5,167.6 1127.8,168.5 1127.9,169.3 1128.1,169.9 1128.2,170.1 1128.4,171.1 1128.6,171.8 1128.7,172.8 1128.9,173.1 1129.1,173.7 1129.2,174.4 1129.4,175.7 1129.6,176.7 1129.8,177.0 1130.0,177.4 1130.1,178.8 1130.3,179.1 1130.5,179.7 1130.7,180.3 1130.9,181.7 1131.1,182.5 1131.2,183.0 1131.4,183.5 1131.6,184.3 1131.8,184.7 1132.0,186.2 1132.2,186.3 1132.4,187.3 1132.6,188.3 1132.8,189.0 1133.0,189.4 1133.1,189.9 1133.3,190.9 1133.5,191.1 1133.7,192.6 1133.9,192.7 1134.1,193.9 1134.3,193.9 1134.5,194.6 1134.7,195.1 1134.8,195.8 1135.0,196.1 1135.4,196.9 1135.7,198.7 1136.0,199.2 1136.3,200.0 1136.6,200.8 1137.0,201.6 1137.3,201.9 1137.6,202.4 1137.9,202.4 1138.1,201.8 1138.4,202.1 1138.6,201.5 1138.9,200.0 1139.1,200.2 1139.4,199.4 1139.6,198.4 1139.8,196.8 1140.1,196.7 1140.3,195.5 1140.6,193.9 1140.8,193.1 1141.0,193.5 1141.1,192.5 1141.3,191.3 1141.5,190.3 1141.7,189.6 1141.8,188.9 1142.0,188.7 1142.2,187.4 1142.3,186.3 1142.5,186.4 1142.7,185.5 1142.9,184.1 1143.0,184.3 1143.2,183.4 1143.4,183.1 1143.5,182.5 1143.7,182.4 1144.3,181.7 1144.8,181.8 1145.4,181.6 1145.9,183.1 1146.5,184.2 1146.7,184.9 1146.8,185.1 1147.0,186.3 1147.2,186.6 1147.3,187.0 1147.5,187.7 1147.7,188.4 1147.9,189.6 1148.0,190.0 1148.2,191.3 1148.4,191.8 1148.5,193.0 1148.7,193.8 1148.9,194.5 1149.1,195.6 1149.2,195.3 1149.4,196.8 1149.7,197.4 1150.0,198.5 1150.4,199.5 1150.7,200.6 1151.0,200.8 1151.3,201.5 1151.7,202.5 1152.0,201.8 1152.3,202.4 1152.5,202.1 1152.8,201.1 1153.0,201.2 1153.2,200.6 1153.5,200.0 1153.7,198.5 1153.9,198.4 1154.2,196.9 1154.4,196.0 1154.7,195.6 1154.9,193.8 1155.2,193.8 1155.5,193.0 1155.8,191.8 1156.2,191.6 1156.5,190.2 1156.9,189.5 1157.2,188.7 1157.6,188.3 1157.9,187.0 1158.2,186.8 1158.5,186.4 1158.8,186.4 1159.2,186.8 1159.5,186.7 1159.8,188.1 1160.1,188.6 1160.4,189.7 1160.7,190.4 1161.0,191.4 1161.4,192.5 1161.9,192.4 1162.3,192.8 1162.7,193.1 1163.1,194.8 1163.2,195.2 1163.2,196.0 1163.3,196.6 1163.4,197.4 1163.4,197.2 1163.5,198.6 1163.6,199.5 1163.6,199.9 1163.7,200.1 1163.7,201.1 1163.8,201.6 1163.8,202.6 1163.9,204.2 1164.0,204.7 1164.0,205.6 1164.1,206.5 1164.2,207.5 1164.2,208.0 1164.3,208.8 1164.4,209.5 1164.4,210.4 1164.5,211.0 1164.6,211.8 1164.7,212.0 1164.8,213.1 1164.9,213.5 1165.0,214.4 1165.2,214.6 1165.4,215.7 1165.7,216.4 1165.9,218.1 1166.2,219.1 1166.5,219.6 1166.8,220.1 1167.1,221.3 1167.4,221.9 1167.7,222.3 1168.0,222.5 1168.2,223.0 1168.5,223.5 1168.8,223.7 1169.0,224.0 1169.4,224.3 1169.8,224.4 1170.2,222.8 1170.6,222.6 1170.9,221.1 1171.3,220.3 1171.6,220.2 1172.0,219.2 1172.4,218.8 1172.8,217.4 1173.1,216.0 1173.5,215.5 1173.9,215.0 1174.2,214.8 1174.6,214.5 1175.0,214.1 1175.2,214.3 1175.4,214.3 1175.6,215.4 1175.8,215.6 1176.0,216.3 1176.3,216.9 1176.5,217.7 1176.7,219.4 1176.9,219.6 1177.1,221.5 1177.3,221.4 1177.5,223.1 1177.8,223.0 1178.0,223.6 1178.3,225.1 1178.6,225.5 1178.9,227.0 1179.2,227.3 1179.5,228.1 1179.8,229.8 1180.1,230.5 1180.4,231.4 1180.7,231.8 1181.0,231.5 1181.3,232.3 1181.6,232.3 1181.8,231.9 1182.0,232.1 1182.2,231.0 1182.4,231.2 1182.6,230.4 1182.8,229.0 1183.0,228.2 1183.2,228.2 1183.4,227.5 1183.6,225.9 1183.8,225.2 1184.0,224.8 1184.2,223.3 1184.4,223.1 1184.6,221.8 1184.8,220.5 1185.0,220.0 1185.1,219.6 1185.3,218.8 1185.4,218.4 1185.5,217.2 1185.7,217.3 1185.8,216.2 1185.9,215.8 1186.0,215.2 1186.2,214.3 1186.3,213.6 1186.4,213.3 1186.5,212.8 1186.7,211.9 1186.8,211.0 1186.9,210.0 1187.0,209.0 1187.2,209.3 1187.3,208.2 1187.4,207.6 1187.6,206.3 1187.7,205.8 1187.9,205.4 1188.0,204.5 1188.1,203.6 1188.2,202.6 1188.3,202.0 1188.5,201.8 1188.6,200.5 1188.7,200.0 1188.8,199.2 1188.9,198.7 1189.0,197.7 1189.2,196.3 1189.3,195.2 1189.4,194.6 1189.5,194.0 1189.6,193.3 1189.8,192.8 1189.9,192.0 1190.0,190.3 1190.1,190.4 1190.3,189.6 1190.4,188.9 1190.5,187.9 1190.7,186.9 1190.8,186.8 1190.9,186.2 1191.0,185.5 1191.2,185.2 1191.3,184.1 1191.4,183.4 1191.6,183.5 1191.7,183.4 1192.3,181.9 1192.9,182.2 1193.5,182.7 1194.1,182.6 1194.8,184.0 1195.4,185.2 1196.0,186.1 1196.2,186.2 1196.5,186.7 1196.7,187.8 1196.9,188.4 1197.1,188.6 1197.4,188.8 1197.6,190.2 1197.8,190.8 1198.0,190.9 1198.2,191.9 1198.5,193.0 1198.7,193.7 1198.9,194.1 1199.1,194.8 1199.3,195.7 1199.6,196.1 1199.8,196.9 1200.0,197.7 1200.2,198.9 1200.3,199.2 1200.5,200.1 1200.6,200.6 1200.8,201.4 1200.9,201.7 1201.1,202.4 1201.3,204.2 1201.4,204.3 1201.6,204.7 1201.7,206.1 1201.9,207.1 1202.1,207.2 1202.2,208.4 1202.4,208.9 1202.5,209.9 1202.7,210.1 1202.8,210.8 1203.0,212.6 1203.1,213.1 1203.3,213.3 1203.4,214.1 1203.6,214.3 1203.7,215.4 1203.9,215.6 1204.0,216.6 1204.4,217.7 1204.8,218.8 1205.2,219.9 1205.6,219.8 1206.0,220.0 1206.4,220.5 1206.7,220.7 1207.1,220.6 1207.5,220.6 1207.8,221.0 1208.2,221.0 1208.5,220.1 1208.8,220.0 1209.2,219.1 1209.6,217.0 1210.0,216.2 1210.1,215.5 1210.2,214.7 1210.4,215.1 1210.5,213.8 1210.6,213.6 1210.8,213.0 1210.9,212.7 1211.0,211.7 1211.2,210.7 1211.3,210.1 1211.4,209.1 1211.6,209.2 1211.7,208.5 1211.9,206.9 1212.0,205.9 1212.1,205.4 1212.3,204.7 1212.4,204.5 1212.6,203.7 1212.7,202.9 1212.9,201.2 1213.0,201.3 1213.2,200.5 1213.3,199.7 1213.4,199.3 1213.6,197.6 1213.7,197.0 1213.9,197.0 1214.0,196.6 1214.2,195.5 1214.4,194.3 1214.5,193.8 1214.7,193.2 1214.9,191.7 1215.1,191.1 1215.2,190.2 1215.4,189.3 1215.6,188.9 1215.8,187.8 1216.0,187.1 1216.1,186.3 1216.3,186.1 1216.5,184.7 1216.7,184.8 1216.8,183.5 1217.0,182.7 1217.2,183.1 1217.4,181.8 1217.5,182.0 1217.7,181.4 1217.8,181.0 1218.0,179.7 1218.6,178.7 1219.1,177.5 1219.6,177.9 1220.1,177.6 1220.6,177.2 1221.1,177.0 1221.6,177.0 1222.1,177.7 1222.6,177.6 1223.1,178.4 1223.6,178.6 1224.1,179.8 1224.3,180.1 1224.5,181.3 1224.6,181.6 1224.8,181.7 1225.0,183.1 1225.2,183.0 1225.3,183.8 1225.5,184.2 1225.7,185.0 1225.9,186.4 1226.0,186.6 1226.2,187.2 1226.4,188.4 1226.6,189.1 1226.7,190.6 1226.9,190.7 1227.1,192.6 1227.2,192.2 1227.3,193.7 1227.4,194.0 1227.5,194.2 1227.6,195.1 1227.7,195.6 1227.8,196.2 1227.9,196.9 1228.0,197.8 1228.1,199.2 1228.2,199.9 1228.3,200.6 1228.4,200.4 1228.5,201.4 1228.6,202.8 1228.6,202.7 1228.7,204.2 1228.8,204.5 1228.9,206.0 1229.0,205.7 1229.1,207.4 1229.2,207.6 1229.3,208.1 1229.4,208.7 1229.5,210.4 1229.6,210.8 1229.7,211.1 1229.8,212.1 1229.9,213.3 1230.0,213.2 1230.1,214.2 1230.2,214.5 1230.3,215.4 1230.5,216.9 1230.6,217.7 1230.7,218.0 1230.8,218.8 1231.0,219.6 1231.1,221.1 1231.2,221.8 1231.3,222.4 1231.5,223.2 1231.6,224.4 1231.7,225.3 1231.8,226.2 1232.0,226.6 1232.1,226.9 1232.2,227.4 1232.3,228.8 1232.5,229.0 1232.6,229.8 1232.7,229.6 1232.8,230.8 1233.0,230.6 1233.1,231.5 1233.5,232.0 1233.8,231.7 1234.2,230.9 1234.6,231.2 1235.0,229.9 1235.3,229.2 1235.7,227.2 1236.1,225.8 1236.2,226.0 1236.3,225.0 1236.4,224.2 1236.6,223.9 1236.7,223.5 1236.8,222.2 1236.9,222.2 1237.0,221.4 1237.1,220.8 1237.3,219.6 1237.4,219.5 1237.5,218.9 1237.6,218.2 1237.7,216.8 1237.8,216.5 1237.9,215.3 1238.1,215.0 1238.2,213.4 1238.3,213.6 1238.4,212.9 1238.5,211.6 1238.6,210.9 1238.8,210.2 1238.9,209.5 1239.0,208.2 1239.1,208.6 1239.2,207.0 1239.4,206.2 1239.5,205.4 1239.6,204.8 1239.7,204.6 1239.9,202.9 1240.0,202.2 1240.1,202.1 1240.2,200.8 1240.4,199.8 1240.5,199.7 1240.6,198.9 1240.7,198.1 1240.9,197.5 1241.0,196.2 1241.1,196.4 1241.2,195.5 1241.4,194.2 1241.5,193.7 1241.7,193.5 1241.8,193.0 1241.9,192.3 1242.1,191.7 1242.6,191.0 1243.2,190.2 1243.8,190.5 1244.4,190.8 1245.0,189.9 1245.6,190.0 1246.1,189.4 1246.3,188.3 1246.5,188.5 1246.6,188.0 1246.8,186.8 1247.0,186.1 1247.1,185.9 1247.3,184.8 1247.4,183.9 1247.6,183.7 1247.7,182.7 1247.9,181.5 1248.0,180.6 1248.2,179.9 1248.3,179.2 1248.5,179.1 1248.6,178.2 1248.8,177.7 1248.9,177.0 1249.1,176.5 1249.4,174.6 1249.8,174.2 1250.1,173.8 1250.5,173.0 1250.8,171.5 1251.2,171.0 1251.5,170.7 1251.9,169.9 1252.2,169.8 1252.5,169.1 1252.9,169.4 1253.3,169.5 1253.7,169.1 1254.1,169.7 1254.4,171.4 1254.8,172.5 1255.2,174.6 1255.3,174.7 1255.4,175.3 1255.4,175.8 1255.5,176.3 1255.6,175.8 1255.7,177.0 1255.7,177.0 1255.8,178.0 1255.9,178.1 1256.0,178.9 1256.1,179.9 1256.2,180.1 1256.2,180.3 1256.3,181.2 1256.4,181.8 1256.5,183.0 1256.6,182.9 1256.6,183.6 1256.7,184.6 1256.8,184.8 1256.9,186.0 1257.0,187.1 1257.1,187.4 1257.1,187.9 1257.2,188.9 1257.3,189.8 1257.4,190.2 1257.5,191.1 1257.5,191.9 1257.6,193.0 1257.7,194.1 1257.8,194.9 1257.9,195.8 1258.0,196.6 1258.0,198.1 1258.1,199.4 1258.2,200.2 1258.2,200.7 1258.3,201.4 1258.3,201.5 1258.4,202.6 1258.4,203.0 1258.4,203.7 1258.5,204.5 1258.5,205.0 1258.6,205.5 1258.6,206.2 1258.7,206.9 1258.7,207.9 1258.7,208.6 1258.8,209.6 1258.8,209.7 1258.9,210.9 1258.9,212.3 1259.0,212.4 1259.0,213.6 1259.0,214.4 1259.1,215.0 1259.1,216.6 1259.2,216.7 1259.2,218.1 1259.3,218.3 1259.3,219.1 1259.3,220.9 1259.4,221.3 1259.4,221.8 1259.5,223.0 1259.5,224.0 1259.6,225.2 1259.6,225.4 1259.6,226.4 1259.7,228.1 1259.7,228.8 1259.8,229.0 1259.8,230.1 1259.8,231.0 1259.9,232.2 1259.9,233.0 1260.0,234.1 1260.0,234.9 1260.1,235.4 1260.1,236.5 1260.1,237.3 1260.2,238.1 1260.2,238.6 1260.3,239.7 1260.3,240.4 1260.3,241.4 1260.4,241.2 1260.4,242.8 1260.5,242.5 1260.5,244.0 1260.5,244.5 1260.6,245.0 1260.6,246.2 1260.7,246.3 1260.7,246.7 1260.7,247.7 1260.8,248.3 1260.8,248.5 1260.8,248.8 1260.9,249.3 1260.9,249.7 1261.0,250.4 1261.0,250.3 1261.0,250.8 1261.1,251.3 1261.1,251.4 1261.1,251.6 1261.2,252.3 1261.2,252.6 1261.3,252.5 1261.3,252.6 1261.4,252.3 1261.5,252.4 1261.5,252.0 1261.6,252.2 1261.6,251.8 1261.7,250.8 1261.7,251.2 1261.8,249.9 1261.8,249.7 1261.9,249.0 1261.9,248.3 1262.0,246.6 1262.0,245.9 1262.1,245.4 1262.1,243.4 1262.2,242.4 1262.2,241.9 1262.3,240.8 1262.3,240.2 1262.4,238.9 1262.4,237.6 1262.5,237.0 1262.5,235.4 1262.6,234.4 1262.6,233.6 1262.7,232.3 1262.7,231.3 1262.8,230.7 1262.8,229.5 1262.9,229.4 1262.9,228.4 1263.0,227.6 1263.1,226.5 1263.1,226.4 1263.2,226.0 1263.9,223.6 1264.6,222.7 1265.4,223.8 1266.2,226.6 1266.3,226.5 1266.3,226.9 1266.4,227.5 1266.5,228.5 1266.6,228.4 1266.6,229.2 1266.7,230.2 1266.8,230.2 1266.8,231.1 1266.9,232.6 1267.0,233.3 1267.1,233.8 1267.1,234.2 1267.2,236.0 1267.3,236.7 1267.4,237.7 1267.4,238.8 1267.5,239.7 1267.6,240.1 1267.7,240.7 1267.7,241.8 1267.8,243.0 1267.9,243.9 1267.9,244.5 1268.0,245.4 1268.1,246.8 1268.2,247.6 1268.2,248.2 1268.3,249.7 1268.4,250.1 1268.4,250.2 1268.5,251.4 1268.6,252.5 1268.6,252.6 1268.7,253.6 1268.8,253.4 1268.8,254.2 1268.9,255.3 1269.0,255.4 1269.0,255.8 1269.1,255.5 1269.1,256.1 1269.2,256.3 1269.3,256.0 1269.4,256.4 1269.4,256.1 1269.5,256.3 1269.6,255.5 1269.7,254.8 1269.7,253.9 1269.8,253.3 1269.9,253.3 1269.9,251.8 1270.0,251.0 1270.0,250.2 1270.1,249.6 1270.2,249.0 1270.2,247.8 1270.3,247.0 1270.4,245.2 1270.4,244.1 1270.5,243.9 1270.5,242.4 1270.6,241.8 1270.6,240.4 1270.7,239.3 1270.8,238.5 1270.8,237.5 1270.9,237.5 1270.9,236.4 1271.0,235.5 1271.1,235.0 1271.1,234.4 1271.2,233.6 1271.7,232.9 1272.1,232.8 1272.6,233.6 1273.2,232.0 1273.3,231.8 1273.4,231.0 1273.5,230.4 1273.7,230.9 1273.8,230.4 1273.9,229.3 1274.1,229.4 1274.2,228.8 1274.3,227.7 1274.5,227.4 1274.6,227.2 1274.8,226.0 1274.9,225.8 1275.1,224.3 1275.2,223.7 1275.3,223.3 1275.5,221.9 1275.6,221.1 1275.7,220.8 1275.9,219.4 1276.0,218.7 1276.1,217.0 1276.2,215.7 1276.2,215.4 1276.3,214.7 1276.3,215.0 1276.4,213.7 1276.4,213.4 1276.5,212.4 1276.5,212.2 1276.6,211.4 1276.6,210.8 1276.6,209.8 1276.7,209.2 1276.7,209.3 1276.8,208.1 1276.8,207.3 1276.8,206.5 1276.9,205.9 1276.9,205.1 1277.0,204.1 1277.0,204.1 1277.0,203.0 1277.1,202.0 1277.1,201.9 1277.2,200.4 1277.2,199.9 1277.2,199.7 1277.3,198.2 1277.3,197.7 1277.3,197.4 1277.4,196.6 1277.4,195.1 1277.4,194.5 1277.5,194.1 1277.5,193.0 1277.5,192.8 1277.6,191.2 1277.6,191.3 1277.6,190.0 1277.7,188.9 1277.7,188.4 1277.7,187.3 1277.8,187.2 1277.8,186.0 1277.8,185.9 1277.9,184.9 1277.9,183.9 1277.9,183.1 1278.0,182.8 1278.0,181.6 1278.0,181.7 1278.1,180.2 1278.1,180.0 1278.1,179.4 1278.2,178.5 1278.2,178.4 1278.2,177.1 1278.3,176.6 1278.3,175.6 1278.4,174.4 1278.4,173.7 1278.5,172.5 1278.5,171.7 1278.6,171.6 1278.6,170.2 1278.6,169.7 1278.7,168.2 1278.7,167.9 1278.8,166.8 1278.8,166.2 1278.9,165.1 1278.9,164.1 1278.9,163.5 1279.0,162.6 1279.0,161.8 1279.1,161.7 1279.1,160.4 1279.1,159.8 1279.2,159.7 1279.2,158.8 1279.2,158.3 1279.3,157.6 1279.3,156.1 1279.3,155.7 1279.4,154.8 1279.4,154.9 1279.4,154.4 1279.5,153.5 1279.5,153.0 1279.5,152.8 1279.5,152.4 1279.6,151.5 1279.6,151.8 1279.6,151.0" fill="none" stroke="#b0122b" stroke-width="2.4" stroke-linejoin="round" stroke-linecap="round" />
<text x="1313.58" y="24.60" font-size="32" text-anchor="start" fill="#000" stroke="#000" stroke-width="0.3" font-weight="bold">c</text>
<g fill="#5b9bd5" stroke="#4a84bd" stroke-width="0.8">
<rect x="1360.8" y="100.5" width="41.5" height="24.3"/>
<path d="M1401.6,76.6 L1504.3,76.6 L1504.3,148.5 L1420.9,148.5 L1420.9,128.9 L1401.6,128.9 Z"/>
<path d="M1503.8,76.9 L1568.4,81.3 L1568.4,105.7 L1503.8,108.4 Z"/>
<path d="M1503.8,117.6 L1568.4,120.0 L1568.4,144.2 L1503.8,147.5 Z"/>
</g>
<rect x="1400.80" y="101.00" width="2.20" height="23.30" fill="#5b9bd5" />
<rect x="1401.6" y="128.9" width="19.3" height="19.6" fill="#fff" stroke="#e01a22" stroke-width="1.9" stroke-dasharray="5 3"/>
<line x1="1401.90" y1="58.90" x2="1401.90" y2="75.40" stroke="#111" stroke-width="1.6" />
<line x1="1505.20" y1="58.90" x2="1505.20" y2="75.40" stroke="#111" stroke-width="1.6" />
<line x1="1405.00" y1="68.60" x2="1502.00" y2="68.60" stroke="#111" stroke-width="1.8" />
<path d="M1403.00,68.60 L1414.00,65.00 L1411.25,68.60 L1414.00,72.20 Z" fill="#111" stroke="none" stroke-width="1" />
<path d="M1503.80,68.60 L1492.80,72.20 L1495.55,68.60 L1492.80,65.00 Z" fill="#111" stroke="none" stroke-width="1" />
<text x="1450.00" y="63.40" font-size="19.5" font-style="italic" fill="#111" stroke="#111" stroke-width="0.45" style="font-family:'Liberation Serif',serif">L<tspan font-size="13" dy="4"></tspan></text>
<line x1="1435.70" y1="86.00" x2="1435.70" y2="141.00" stroke="#0d2350" stroke-width="2.2" />
<path d="M1435.70,80.20 L1439.30,91.20 L1435.70,88.45 L1432.10,91.20 Z" fill="#0d2350" stroke="none" stroke-width="1" />
<path d="M1435.70,147.10 L1432.10,136.10 L1435.70,138.85 L1439.30,136.10 Z" fill="#0d2350" stroke="none" stroke-width="1" />
<text x="1415.50" y="104.80" font-size="18" font-style="italic" fill="#0d2350" stroke="#0d2350" stroke-width="0.45" style="font-family:'Liberation Serif',serif">W<tspan font-size="13" dy="4"></tspan></text>
<line x1="1492.00" y1="108.50" x2="1503.20" y2="108.50" stroke="#0d2350" stroke-width="1.8" />
<line x1="1492.00" y1="117.80" x2="1503.20" y2="117.80" stroke="#0d2350" stroke-width="1.8" />
<line x1="1497.80" y1="96.00" x2="1497.80" y2="104.00" stroke="#0d2350" stroke-width="1.8" />
<path d="M1497.80,108.00 L1494.80,101.00 L1497.80,102.75 L1500.80,101.00 Z" fill="#0d2350" stroke="none" stroke-width="1" />
<line x1="1497.80" y1="122.00" x2="1497.80" y2="132.00" stroke="#0d2350" stroke-width="1.8" />
<path d="M1497.80,118.30 L1500.80,125.30 L1497.80,123.55 L1494.80,125.30 Z" fill="#0d2350" stroke="none" stroke-width="1" />
<text x="1457.50" y="126.40" font-size="19.5" font-style="italic" fill="#0d2350" stroke="#0d2350" stroke-width="0.45" style="font-family:'Liberation Serif',serif">W<tspan font-size="13" dy="4">gap</tspan></text>
<text x="1349.50" y="92.70" font-size="19.5" font-style="italic" fill="#111" stroke="#111" stroke-width="0.45" style="font-family:'Liberation Serif',serif">WG<tspan font-size="13" dy="4">in</tspan></text>
<text x="1572.00" y="96.40" font-size="19.5" font-style="italic" fill="#111" stroke="#111" stroke-width="0.45" style="font-family:'Liberation Serif',serif">WG<tspan font-size="13" dy="4">u</tspan></text>
<text x="1572.00" y="135.00" font-size="19.5" font-style="italic" fill="#111" stroke="#111" stroke-width="0.45" style="font-family:'Liberation Serif',serif">WG<tspan font-size="13" dy="3">b</tspan></text>
<text x="1366.30" y="142.70" font-size="18" font-style="italic" fill="#111" stroke="#111" stroke-width="0.45" style="font-family:'Liberation Serif',serif">W<tspan font-size="13" dy="4">r</tspan></text>
<line x1="1389.00" y1="130.30" x2="1400.50" y2="130.30" stroke="#111" stroke-width="1.8" />
<line x1="1389.00" y1="148.60" x2="1400.50" y2="148.60" stroke="#111" stroke-width="1.8" />
<line x1="1394.70" y1="134.00" x2="1394.70" y2="145.00" stroke="#111" stroke-width="1.6" />
<path d="M1394.70,131.20 L1397.50,136.70 L1394.70,135.32 L1391.90,136.70 Z" fill="#111" stroke="none" stroke-width="1" />
<path d="M1394.70,147.70 L1391.90,142.20 L1394.70,143.57 L1397.50,142.20 Z" fill="#111" stroke="none" stroke-width="1" />
<line x1="1402.20" y1="151.50" x2="1402.20" y2="162.00" stroke="#111" stroke-width="1.8" />
<line x1="1420.70" y1="151.50" x2="1420.70" y2="162.00" stroke="#111" stroke-width="1.8" />
<line x1="1405.00" y1="156.40" x2="1418.00" y2="156.40" stroke="#111" stroke-width="1.2" />
<path d="M1403.20,156.40 L1407.70,154.10 L1406.58,156.40 L1407.70,158.70 Z" fill="#111" stroke="none" stroke-width="1" />
<path d="M1419.70,156.40 L1415.20,158.70 L1416.33,156.40 L1415.20,154.10 Z" fill="#111" stroke="none" stroke-width="1" />
<text x="1422.5" y="165.5" font-size="19.5" fill="#111" stroke="#111" stroke-width="0.45" style="font-family:'Liberation Serif',serif"><tspan font-style="italic">L</tspan><tspan font-style="italic" font-size="13" dy="3.5">r</tspan><tspan dy="-3.5" dx="1.8">(b)</tspan></text>
<defs><clipPath id="csem"><rect x="1620" y="65" width="106.7" height="83.75"/></clipPath><filter id="semn" x="0" y="0" width="100%" height="100%"><feTurbulence type="fractalNoise" baseFrequency="0.9" numOctaves="2" seed="4" result="n"/><feColorMatrix type="matrix" values="0 0 0 0 0.36  0 0 0 0 0.36  0 0 0 0 0.36  0.9 0 0 0 -0.35" result="m"/><feComposite in="m" in2="SourceGraphic" operator="in"/></filter></defs>
<g clip-path="url(#csem)">
<rect x="1620.00" y="65.00" width="106.70" height="83.75" fill="#5e5e5e" />
<rect x="1620" y="65" width="106.7" height="83.75" fill="#fff" filter="url(#semn)" opacity="0.5"/>
<path d="M1615,100.7 L1637,100.7 L1638,82.3 L1690,82 L1732,85 L1732,102 L1699,102 Q1693,107 1699,112.7 L1732,112.7 L1732,128 L1690,130.3 L1663,130.3 L1662,118.3 L1637,118 L1636,115.1 L1615,115.1 Z" fill="#7c7c7c" stroke="#9c9c9c" stroke-width="1.7"/>
</g>
<defs>
<clipPath id="cf1"><rect x="1359.5" y="176.4" width="312.2" height="102.2"/></clipPath>
<clipPath id="cf2"><rect x="1677.7" y="176.4" width="45.6" height="102.2"/></clipPath>
<filter id="bl6" x="-50%" y="-50%" width="200%" height="200%"><feGaussianBlur stdDeviation="6"/></filter>
<filter id="bl4" x="-50%" y="-50%" width="200%" height="200%"><feGaussianBlur stdDeviation="4"/></filter>
<filter id="bl3" x="-50%" y="-50%" width="200%" height="200%"><feGaussianBlur stdDeviation="3"/></filter>
<filter id="bl2" x="-50%" y="-50%" width="200%" height="200%"><feGaussianBlur stdDeviation="2"/></filter>
</defs>
<g clip-path="url(#cf1)">
<rect x="1359.50" y="176.40" width="312.20" height="102.20" fill="#80ec7c" />
<path d="M1400.7,192.5 L1680,192.5 L1680,263.4 L1419.9,263.4 L1419.9,244.7 L1400.7,244.7 Z" fill="#f0f040" opacity="0.22"/>
<g filter="url(#bl6)" fill="#f4f83a">
<ellipse cx="1450" cy="226" rx="45" ry="13"/>
<ellipse cx="1498" cy="209" rx="54" ry="10" transform="rotate(6 1498 209)"/>
<ellipse cx="1498" cy="249" rx="44" ry="8"/>
<ellipse cx="1594" cy="226" rx="62" ry="16"/>
<ellipse cx="1672" cy="206" rx="22" ry="11"/>
<ellipse cx="1672" cy="248" rx="22" ry="11"/>
<ellipse cx="1545" cy="214" rx="20" ry="9"/>
<ellipse cx="1545" cy="240" rx="20" ry="9"/>
</g>
<g filter="url(#bl4)" fill="#ffff00">
<ellipse cx="1440" cy="227" rx="35" ry="9"/>
<ellipse cx="1496" cy="208.5" rx="42" ry="7" transform="rotate(6 1496 208.5)"/>
<ellipse cx="1496" cy="249" rx="28" ry="4.5"/>
<ellipse cx="1594" cy="226" rx="52" ry="12"/>
</g>
<g filter="url(#bl4)" fill="#ffa800">
<ellipse cx="1425" cy="227.6" rx="36" ry="8"/>
<ellipse cx="1492" cy="208" rx="34" ry="5" transform="rotate(6 1492 208)"/>
<ellipse cx="1594" cy="226" rx="42" ry="8.5"/>
<ellipse cx="1670" cy="206" rx="8" ry="4"/>
</g>
<g filter="url(#bl3)">
<ellipse cx="1594" cy="226" rx="33" ry="6" fill="#ff5a00"/>
<ellipse cx="1395" cy="227.6" rx="48" ry="8" fill="#e01000"/>
</g>
<g filter="url(#bl3)">
<ellipse cx="1368" cy="227.6" rx="38" ry="6" fill="#960000"/>
</g>
<path d="M1355,215.7 L1400.7,215.7 L1400.7,192.5 L1680,192.5 M1355,239.7 L1400.7,239.7 L1400.7,244.7 L1419.9,244.7 L1419.9,263.4 L1680,263.4" fill="none" stroke="#2f6a34" stroke-width="1.5"/>
</g>
<g clip-path="url(#cf2)">
<rect x="1677.70" y="176.40" width="45.60" height="102.20" fill="#80ec7c" />
<g filter="url(#bl2)">
<ellipse cx="1702" cy="212" rx="5" ry="10" fill="#f4f83a"/>
<ellipse cx="1702" cy="250" rx="5" ry="10" fill="#f4f83a"/>
<ellipse cx="1702" cy="211" rx="3" ry="5" fill="#ffa000"/>
</g>
<line x1="1697.00" y1="176.00" x2="1697.00" y2="279.00" stroke="#1f3a1f" stroke-width="1.5" />
<rect x="1697" y="192.5" width="10" height="71.9" fill="none" stroke="#1f3a1f" stroke-width="1.5"/>
</g>
<line x1="1505.30" y1="170.00" x2="1505.30" y2="284.50" stroke="#111" stroke-width="1.4" stroke-dasharray="6 3 2 3"/>
<line x1="1505.30" y1="170.30" x2="1520.00" y2="170.30" stroke="#111" stroke-width="1.5" />
<line x1="1505.30" y1="284.30" x2="1520.00" y2="284.30" stroke="#111" stroke-width="1.5" />
<path d="M1527.00,170.30 L1518.00,173.60 L1520.25,170.30 L1518.00,167.00 Z" fill="#111" stroke="none" stroke-width="1" />
<path d="M1527.00,284.30 L1518.00,287.60 L1520.25,284.30 L1518.00,281.00 Z" fill="#111" stroke="none" stroke-width="1" />
<rect x="1384.40" y="309.10" width="23.20" height="19.90" fill="#2150a8" />
<text x="1415.28" y="327.50" font-size="25" text-anchor="start" fill="#111" stroke="#111" stroke-width="0.3" >90% Port</text>
<rect x="1557.10" y="309.40" width="22.20" height="19.60" fill="#c8121f" />
<text x="1598.72" y="327.50" font-size="25" text-anchor="start" fill="#111" stroke="#111" stroke-width="0.3" >10% Port</text>
<rect x="1371.5" y="339.2" width="352.1" height="226.8" fill="none" stroke="#444" stroke-width="1.8"/>
<line x1="1372.50" y1="362.40" x2="1722.60" y2="362.40" stroke="#555" stroke-width="1.5" stroke-dasharray="5 3.5"/>
<line x1="1372.50" y1="541.60" x2="1722.60" y2="541.60" stroke="#555" stroke-width="1.5" stroke-dasharray="5 3.5"/>
<rect x="1384.00" y="365.00" width="28.30" height="201.00" fill="#2150a8" />
<rect x="1419.40" y="540.50" width="28.30" height="25.50" fill="#c8121f" />
<text x="1408.54" y="590.80" font-size="25" text-anchor="start" fill="#111" stroke="#111" stroke-width="0.3" >1</text>
<rect x="1471.95" y="365.00" width="28.30" height="201.00" fill="#2150a8" />
<rect x="1507.50" y="540.80" width="28.30" height="25.20" fill="#c8121f" />
<text x="1496.88" y="590.80" font-size="25" text-anchor="start" fill="#111" stroke="#111" stroke-width="0.3" >2</text>
<rect x="1559.90" y="365.00" width="28.30" height="201.00" fill="#2150a8" />
<rect x="1595.60" y="541.00" width="28.30" height="25.00" fill="#c8121f" />
<text x="1585.03" y="590.80" font-size="25" text-anchor="start" fill="#111" stroke="#111" stroke-width="0.3" >3</text>
<rect x="1647.85" y="360.60" width="28.30" height="205.40" fill="#2150a8" />
<rect x="1683.70" y="545.10" width="28.30" height="20.90" fill="#c8121f" />
<text x="1673.05" y="590.80" font-size="25" text-anchor="start" fill="#111" stroke="#111" stroke-width="0.3" >4</text>
<line x1="1371.50" y1="566.00" x2="1723.60" y2="566.00" stroke="#444" stroke-width="1.8" />
<text x="1683.33" y="359.30" font-size="25" text-anchor="start" fill="#111" stroke="#111" stroke-width="0.3" >0.9</text>
<text x="1687.83" y="537.00" font-size="25" text-anchor="start" fill="#111" stroke="#111" stroke-width="0.3" >0.1</text>
<text x="1489.40" y="617.50" font-size="25" text-anchor="start" fill="#111" stroke="#111" stroke-width="0.3" >Device no.</text>
<text transform="translate(1342.90,558.60) rotate(-90)" font-size="25" fill="#111" stroke="#111" stroke-width="0.3">Transmission (a.u.)</text>
<text x="0.12" y="382.60" font-size="32" text-anchor="start" fill="#000" stroke="#000" stroke-width="0.3" font-weight="bold">d</text>
<defs><clipPath id="cph"><rect x="27.2" y="386.6" width="636.6" height="179.4"/></clipPath>
<filter id="pb" x="-5%" y="-5%" width="110%" height="110%"><feGaussianBlur stdDeviation="0.7"/></filter>
<linearGradient id="fg" x1="0" x2="1" y1="0" y2="0">
<stop offset="0" stop-color="#474e3e"/><stop offset="0.15" stop-color="#4f5646"/><stop offset="0.35" stop-color="#5d5f5c"/><stop offset="0.5" stop-color="#66636c"/><stop offset="0.65" stop-color="#5e5c62"/><stop offset="0.85" stop-color="#4f5646"/><stop offset="1" stop-color="#474e3e"/></linearGradient>
<linearGradient id="pg" x1="0" x2="0" y1="0" y2="1">
<stop offset="0" stop-color="#50574a"/><stop offset="0.5" stop-color="#5b5a60"/><stop offset="0.85" stop-color="#575560"/><stop offset="1" stop-color="#4a4538"/></linearGradient>
</defs>
<g clip-path="url(#cph)">
<rect x="27.20" y="386.60" width="636.60" height="179.40" fill="#cfcc97" />
<g filter="url(#pb)">
<rect x="103.70" y="380.00" width="20.60" height="80.00" fill="url(#fg)" />
<path d="M103.7,452.5 L99.5,457 L99.5,485.8 L128.5,485.8 L128.5,457 L124.3,452.5 Z" fill="url(#pg)" stroke="none" stroke-width="1" />
<rect x="146.06" y="380.00" width="20.60" height="80.00" fill="url(#fg)" />
<path d="M146.1,452.5 L141.9,457 L141.9,485.8 L170.9,485.8 L170.9,457 L166.7,452.5 Z" fill="url(#pg)" stroke="none" stroke-width="1" />
<rect x="188.42" y="380.00" width="20.60" height="80.00" fill="url(#fg)" />
<path d="M188.4,452.5 L184.2,457 L184.2,485.8 L213.2,485.8 L213.2,457 L209.0,452.5 Z" fill="url(#pg)" stroke="none" stroke-width="1" />
<rect x="230.78" y="380.00" width="20.60" height="80.00" fill="url(#fg)" />
<path d="M230.8,452.5 L226.6,457 L226.6,485.8 L255.6,485.8 L255.6,457 L251.4,452.5 Z" fill="url(#pg)" stroke="none" stroke-width="1" />
<rect x="273.14" y="380.00" width="20.60" height="80.00" fill="url(#fg)" />
<path d="M273.1,452.5 L268.9,457 L268.9,485.8 L297.9,485.8 L297.9,457 L293.7,452.5 Z" fill="url(#pg)" stroke="none" stroke-width="1" />
<rect x="315.50" y="380.00" width="20.60" height="80.00" fill="url(#fg)" />
<path d="M315.5,452.5 L311.3,457 L311.3,485.8 L340.3,485.8 L340.3,457 L336.1,452.5 Z" fill="url(#pg)" stroke="none" stroke-width="1" />
<rect x="357.86" y="380.00" width="20.60" height="80.00" fill="url(#fg)" />
<path d="M357.9,452.5 L353.7,457 L353.7,485.8 L382.7,485.8 L382.7,457 L378.5,452.5 Z" fill="url(#pg)" stroke="none" stroke-width="1" />
<rect x="400.22" y="380.00" width="20.60" height="80.00" fill="url(#fg)" />
<path d="M400.2,452.5 L396.0,457 L396.0,485.8 L425.0,485.8 L425.0,457 L420.8,452.5 Z" fill="url(#pg)" stroke="none" stroke-width="1" />
<rect x="442.58" y="380.00" width="20.60" height="80.00" fill="url(#fg)" />
<path d="M442.6,452.5 L438.4,457 L438.4,485.8 L467.4,485.8 L467.4,457 L463.2,452.5 Z" fill="url(#pg)" stroke="none" stroke-width="1" />
<rect x="484.94" y="380.00" width="20.60" height="80.00" fill="url(#fg)" />
<path d="M484.9,452.5 L480.7,457 L480.7,485.8 L509.7,485.8 L509.7,457 L505.5,452.5 Z" fill="url(#pg)" stroke="none" stroke-width="1" />
<rect x="527.30" y="380.00" width="20.60" height="80.00" fill="url(#fg)" />
<path d="M527.3,452.5 L523.1,457 L523.1,485.8 L552.1,485.8 L552.1,457 L547.9,452.5 Z" fill="url(#pg)" stroke="none" stroke-width="1" />
<rect x="569.66" y="380.00" width="20.60" height="80.00" fill="url(#fg)" />
<path d="M569.7,452.5 L565.5,457 L565.5,485.8 L594.5,485.8 L594.5,457 L590.3,452.5 Z" fill="url(#pg)" stroke="none" stroke-width="1" />
<path fill="#555d50" d="M34.4,440.7 L81,440.7 L81,457.5 L84.9,457.5 L84.9,485.6 L56.9,485.6 L56.9,463.7 L53.5,463.7 L53.5,519.5 L638.7,519.5 L638.7,486.2 L609.2,486.2 L609.2,458 L612.9,458 L612.9,442.9 L659,442.9 L659,520.3 L664,520.3 L664,538.5 L33,538.5 L33,570 L27,570 L27,521 L34.4,521 Z"/>
<rect x="659.80" y="537.00" width="4.50" height="30.00" fill="#555d50" />
</g>
<rect x="30.00" y="529.00" width="634.00" height="9.50" fill="#58505e" opacity='0.5'/>
<rect x="30.00" y="527.60" width="634.00" height="1.30" fill="#77747e" opacity='0.5'/>
<rect x="65.20" y="465.80" width="10.80" height="12.00" fill="#b8b0c4" />
<rect x="66.40" y="467.00" width="8.40" height="9.60" fill="#d2c8d4" />
<rect x="68.80" y="470.10" width="3.60" height="3.60" fill="#5a3a34" />
<rect x="108.60" y="465.80" width="10.80" height="12.00" fill="#b8b0c4" />
<rect x="109.80" y="467.00" width="8.40" height="9.60" fill="#d2c8d4" />
<rect x="112.20" y="470.10" width="3.60" height="3.60" fill="#5a3a34" />
<rect x="150.96" y="465.80" width="10.80" height="12.00" fill="#b8b0c4" />
<rect x="152.16" y="467.00" width="8.40" height="9.60" fill="#d2c8d4" />
<rect x="154.56" y="470.10" width="3.60" height="3.60" fill="#5a3a34" />
<rect x="193.32" y="465.80" width="10.80" height="12.00" fill="#b8b0c4" />
<rect x="194.52" y="467.00" width="8.40" height="9.60" fill="#d2c8d4" />
<rect x="196.92" y="470.10" width="3.60" height="3.60" fill="#5a3a34" />
<rect x="235.68" y="465.80" width="10.80" height="12.00" fill="#b8b0c4" />
<rect x="236.88" y="467.00" width="8.40" height="9.60" fill="#d2c8d4" />
<rect x="239.28" y="470.10" width="3.60" height="3.60" fill="#5a3a34" />
<rect x="278.04" y="465.80" width="10.80" height="12.00" fill="#b8b0c4" />
<rect x="279.24" y="467.00" width="8.40" height="9.60" fill="#d2c8d4" />
<rect x="281.64" y="470.10" width="3.60" height="3.60" fill="#5a3a34" />
<rect x="320.40" y="465.80" width="10.80" height="12.00" fill="#b8b0c4" />
<rect x="321.60" y="467.00" width="8.40" height="9.60" fill="#d2c8d4" />
<rect x="324.00" y="470.10" width="3.60" height="3.60" fill="#5a3a34" />
<rect x="362.76" y="465.80" width="10.80" height="12.00" fill="#b8b0c4" />
<rect x="363.96" y="467.00" width="8.40" height="9.60" fill="#d2c8d4" />
<rect x="366.36" y="470.10" width="3.60" height="3.60" fill="#5a3a34" />
<rect x="405.12" y="465.80" width="10.80" height="12.00" fill="#b8b0c4" />
<rect x="406.32" y="467.00" width="8.40" height="9.60" fill="#d2c8d4" />
<rect x="408.72" y="470.10" width="3.60" height="3.60" fill="#5a3a34" />
<rect x="447.48" y="465.80" width="10.80" height="12.00" fill="#b8b0c4" />
<rect x="448.68" y="467.00" width="8.40" height="9.60" fill="#d2c8d4" />
<rect x="451.08" y="470.10" width="3.60" height="3.60" fill="#5a3a34" />
<rect x="489.84" y="465.80" width="10.80" height="12.00" fill="#b8b0c4" />
<rect x="491.04" y="467.00" width="8.40" height="9.60" fill="#d2c8d4" />
<rect x="493.44" y="470.10" width="3.60" height="3.60" fill="#5a3a34" />
<rect x="532.20" y="465.80" width="10.80" height="12.00" fill="#b8b0c4" />
<rect x="533.40" y="467.00" width="8.40" height="9.60" fill="#d2c8d4" />
<rect x="535.80" y="470.10" width="3.60" height="3.60" fill="#5a3a34" />
<rect x="574.56" y="465.80" width="10.80" height="12.00" fill="#b8b0c4" />
<rect x="575.76" y="467.00" width="8.40" height="9.60" fill="#d2c8d4" />
<rect x="578.16" y="470.10" width="3.60" height="3.60" fill="#5a3a34" />
<rect x="617.10" y="465.80" width="10.80" height="12.00" fill="#b8b0c4" />
<rect x="618.30" y="467.00" width="8.40" height="9.60" fill="#d2c8d4" />
<rect x="620.70" y="470.10" width="3.60" height="3.60" fill="#5a3a34" />
<line x1="114.50" y1="386.00" x2="114.50" y2="466.00" stroke="#908c9c" stroke-width="0.9" opacity='0.8'/>
<line x1="156.86" y1="386.00" x2="156.86" y2="466.00" stroke="#908c9c" stroke-width="0.9" opacity='0.8'/>
<line x1="199.22" y1="386.00" x2="199.22" y2="466.00" stroke="#908c9c" stroke-width="0.9" opacity='0.8'/>
<line x1="241.58" y1="386.00" x2="241.58" y2="466.00" stroke="#908c9c" stroke-width="0.9" opacity='0.8'/>
<line x1="283.94" y1="386.00" x2="283.94" y2="466.00" stroke="#908c9c" stroke-width="0.9" opacity='0.8'/>
<line x1="326.30" y1="386.00" x2="326.30" y2="466.00" stroke="#908c9c" stroke-width="0.9" opacity='0.8'/>
<line x1="368.66" y1="386.00" x2="368.66" y2="466.00" stroke="#908c9c" stroke-width="0.9" opacity='0.8'/>
<line x1="411.02" y1="386.00" x2="411.02" y2="466.00" stroke="#908c9c" stroke-width="0.9" opacity='0.8'/>
<line x1="453.38" y1="386.00" x2="453.38" y2="466.00" stroke="#908c9c" stroke-width="0.9" opacity='0.8'/>
<line x1="495.74" y1="386.00" x2="495.74" y2="466.00" stroke="#908c9c" stroke-width="0.9" opacity='0.8'/>
<line x1="538.10" y1="386.00" x2="538.10" y2="466.00" stroke="#908c9c" stroke-width="0.9" opacity='0.8'/>
<line x1="580.46" y1="386.00" x2="580.46" y2="466.00" stroke="#908c9c" stroke-width="0.9" opacity='0.8'/>
<path d="M71.3,466 L71.3,450.8 L44.5,450.8 L44.5,528 L649,528 L649,452 L622.5,452 L622.5,466" fill="none" stroke="#a08a9a" stroke-width="0.9" opacity="0.8"/>
</g>
<rect x="545.30" y="581.60" width="33.20" height="4.10" fill="#000" />
<text x="589.1" y="590.5" font-size="25" fill="#111" stroke="#111" stroke-width="0.3">100<tspan style="font-family:'DejaVu Sans',sans-serif" font-size="22">μ</tspan>m</text>
<rect x="785.6" y="387" width="516.6" height="181.1" fill="none" stroke="#444" stroke-width="1.7"/>
<line x1="785.50" y1="417.50" x2="793.00" y2="417.50" stroke="#444" stroke-width="1.4" />
<line x1="785.50" y1="447.30" x2="793.00" y2="447.30" stroke="#444" stroke-width="1.4" />
<line x1="785.50" y1="477.80" x2="793.00" y2="477.80" stroke="#444" stroke-width="1.4" />
<line x1="785.50" y1="507.60" x2="793.00" y2="507.60" stroke="#444" stroke-width="1.4" />
<line x1="785.50" y1="537.70" x2="793.00" y2="537.70" stroke="#444" stroke-width="1.4" />
<line x1="891.30" y1="568.20" x2="891.30" y2="561.00" stroke="#444" stroke-width="1.4" />
<line x1="1043.90" y1="568.20" x2="1043.90" y2="561.00" stroke="#444" stroke-width="1.4" />
<line x1="1195.00" y1="568.20" x2="1195.00" y2="561.00" stroke="#444" stroke-width="1.4" />
<text x="864.52" y="591.20" font-size="25" text-anchor="start" fill="#111" stroke="#111" stroke-width="0.3" >1540</text>
<text x="1016.52" y="591.20" font-size="25" text-anchor="start" fill="#111" stroke="#111" stroke-width="0.3" >1550</text>
<text x="1169.62" y="591.20" font-size="25" text-anchor="start" fill="#111" stroke="#111" stroke-width="0.3" >1560</text>
<text x="955.60" y="618.30" font-size="25" text-anchor="start" fill="#111" stroke="#111" stroke-width="0.3" >Wavelength (nm)</text>
<text transform="translate(738.50,548.81) rotate(-90)" font-size="25.4" fill="#111" stroke="#111" stroke-width="0.3">Transmission</text>
<text transform="translate(766.20,530.53) rotate(-90)" font-size="25.5" fill="#111" stroke="#111" stroke-width="0.3">(5dB/div.)</text>
<polyline points="785.5,432.1 787.5,432.3 789.5,432.2 791.5,432.3 793.5,432.3 795.5,432.0 797.5,431.9 799.5,432.4 801.5,432.0 803.5,432.0 805.5,432.4 807.5,432.1 809.5,432.3 811.5,432.1 813.5,432.1 815.5,431.8 817.5,432.1 819.5,432.2 821.5,432.0 823.5,432.1 825.5,432.1 827.5,431.7 829.5,432.1 831.5,432.0 833.5,431.8 835.5,431.6 837.5,432.1 839.5,431.8 841.5,431.9 843.5,432.0 845.5,431.9 847.5,432.0 849.5,431.7 851.5,431.9 853.5,431.7 855.5,432.0 857.5,431.9 859.5,431.4 861.5,431.4 863.5,431.4 865.5,431.9 867.5,431.5 869.5,431.6 871.5,431.4 873.5,431.5 875.5,431.4 877.5,431.4 879.5,431.5 881.5,431.5 883.5,431.7 885.5,431.5 887.5,431.7 889.5,431.6 891.5,431.7 893.5,431.5 895.5,431.1 897.5,431.5 899.5,431.6 901.5,431.5 903.5,431.3 905.5,431.4 907.5,431.1 909.5,431.4 911.5,431.2 913.5,431.1 915.5,430.9 917.5,431.4 919.5,431.4 921.5,430.9 923.5,431.3 925.5,431.0 927.5,430.9 929.5,430.9 931.5,431.2 933.5,431.2 935.5,430.7 937.5,431.0 939.5,430.7 941.5,431.1 943.5,430.8 945.5,431.1 947.5,431.2 949.5,430.9 951.5,431.2 953.5,430.7 955.5,430.6 957.5,430.9 959.5,430.5 961.5,430.6 963.5,430.7 965.5,430.8 967.5,430.5 969.5,430.4 971.5,430.9 973.5,430.5 975.5,430.9 977.5,430.9 979.5,430.5 981.5,430.6 983.5,430.6 985.5,430.6 987.5,430.6 989.5,430.6 991.5,430.6 993.5,430.8 995.5,430.5 997.5,430.4 999.5,430.6 1001.5,430.3 1003.5,430.3 1005.5,430.7 1007.5,430.4 1009.5,430.4 1011.5,430.0 1013.5,430.3 1015.5,430.3 1017.5,430.0 1019.5,430.3 1021.5,430.3 1023.5,430.0 1025.5,430.3 1027.5,430.2 1029.5,430.3 1031.5,430.1 1033.5,430.3 1035.5,430.3 1037.5,429.8 1039.5,429.8 1041.5,430.2 1043.5,430.3 1045.5,429.9 1047.5,430.0 1049.5,430.1 1051.5,429.9 1053.5,429.9 1055.5,429.8 1057.5,429.8 1059.5,430.0 1061.5,429.8 1063.5,429.8 1065.5,430.0 1067.5,429.6 1069.5,429.9 1071.5,429.9 1073.5,429.7 1075.5,429.6 1077.5,429.9 1079.5,429.6 1081.5,429.5 1083.5,429.7 1085.5,429.8 1087.5,429.4 1089.5,429.5 1091.5,429.5 1093.5,429.8 1095.5,429.6 1097.5,429.8 1099.5,429.4 1101.5,429.4 1103.5,429.6 1105.5,429.7 1107.5,429.5 1109.5,429.3 1111.5,429.2 1113.5,429.5 1115.5,429.2 1117.5,429.6 1119.5,429.6 1121.5,429.2 1123.5,429.2 1125.5,429.5 1127.5,429.4 1129.5,429.5 1131.5,429.2 1133.5,429.0 1135.5,429.1 1137.5,429.4 1139.5,429.1 1141.5,429.1 1143.5,429.1 1145.5,429.1 1147.5,429.1 1149.5,429.4 1151.5,428.9 1153.5,428.8 1155.5,429.3 1157.5,429.3 1159.5,429.3 1161.5,429.0 1163.5,429.3 1165.5,429.2 1167.5,428.8 1169.5,429.1 1171.5,429.1 1173.5,429.0 1175.5,428.9 1177.5,428.8 1179.5,428.8 1181.5,428.7 1183.5,428.6 1185.5,428.9 1187.5,428.7 1189.5,429.0 1191.5,428.5 1193.5,429.0 1195.5,428.8 1197.5,429.0 1199.5,428.9 1201.5,428.9 1203.5,428.7 1205.5,428.3 1207.5,428.8 1209.5,428.4 1211.5,428.5 1213.5,428.7 1215.5,428.6 1217.5,428.5 1219.5,428.8 1221.5,428.6 1223.5,428.4 1225.5,428.3 1227.5,428.7 1229.5,428.4 1231.5,428.6 1233.5,428.3 1235.5,428.2 1237.5,428.4 1239.5,428.5 1241.5,428.1 1243.5,428.5 1245.5,428.5 1247.5,428.5 1249.5,428.4 1251.5,427.9 1253.5,428.3 1255.5,428.4 1257.5,427.9 1259.5,428.0 1261.5,428.0 1263.5,428.1 1265.5,428.1 1267.5,428.1 1269.5,428.2 1271.5,427.8 1273.5,427.8 1275.5,427.8 1277.5,427.8 1279.5,427.7 1281.5,428.3 1283.5,428.2 1285.5,427.7 1287.5,427.9 1289.5,427.8 1291.5,427.8 1293.5,427.8 1295.5,427.9 1297.5,427.9 1299.5,427.7 1301.5,427.6" fill="none" stroke="#111" stroke-width="1.5" stroke-linejoin="round" stroke-linecap="round" />
<polyline points="785.5,474.7 787.5,474.2 789.5,474.8 791.5,475.0 793.5,474.2 795.5,473.5 797.5,473.6 799.5,473.8 801.5,474.1 803.5,474.2 805.5,473.4 807.5,474.0 809.5,473.5 811.5,473.1 813.5,472.8 815.5,472.9 817.5,473.2 819.5,472.5 821.5,472.9 823.5,472.3 825.5,471.8 827.5,472.2 829.5,472.4 831.5,471.1 833.5,471.7 835.5,471.5 837.5,472.2 839.5,472.2 841.5,471.1 843.5,471.9 845.5,471.6 847.5,470.5 849.5,470.8 851.5,470.1 853.5,471.2 855.5,470.8 857.5,471.1 859.5,470.8 861.5,470.5 863.5,470.5 865.5,470.1 867.5,469.2 869.5,469.9 871.5,468.8 873.5,468.9 875.5,470.0 877.5,468.6 879.5,468.6 881.5,468.5 883.5,469.8 885.5,468.4 887.5,468.1 889.5,469.4 891.5,468.0 893.5,469.3 895.5,468.9 897.5,469.1 899.5,469.2 901.5,468.4 903.5,468.8 905.5,467.3 907.5,468.5 909.5,468.0 911.5,468.3 913.5,467.1 915.5,468.2 917.5,468.4 919.5,466.8 921.5,467.2 923.5,467.6 925.5,468.0 927.5,466.8 929.5,466.7 931.5,466.7 933.5,467.3 935.5,467.5 937.5,466.8 939.5,466.7 941.5,466.7 943.5,466.5 945.5,466.6 947.5,465.9 949.5,466.6 951.5,467.4 953.5,466.4 955.5,466.9 957.5,465.8 959.5,466.7 961.5,466.8 963.5,466.6 965.5,466.2 967.5,466.1 969.5,466.4 971.5,466.8 973.5,465.4 975.5,465.3 977.5,466.4 979.5,466.6 981.5,465.9 983.5,465.7 985.5,466.2 987.5,465.2 989.5,465.3 991.5,465.1 993.5,465.8 995.5,465.3 997.5,465.1 999.5,465.9 1001.5,466.3 1003.5,465.1 1005.5,465.8 1007.5,465.3 1009.5,466.1 1011.5,465.6 1013.5,465.0 1015.5,464.9 1017.5,464.5 1019.5,465.3 1021.5,465.1 1023.5,464.7 1025.5,465.0 1027.5,465.0 1029.5,465.8 1031.5,464.6 1033.5,466.1 1035.5,465.2 1037.5,465.4 1039.5,465.2 1041.5,465.8 1043.5,465.8 1045.5,465.3 1047.5,465.2 1049.5,465.6 1051.5,465.8 1053.5,465.0 1055.5,465.6 1057.5,466.0 1059.5,465.2 1061.5,464.8 1063.5,464.8 1065.5,465.7 1067.5,465.6 1069.5,466.1 1071.5,466.0 1073.5,464.9 1075.5,464.8 1077.5,465.0 1079.5,464.9 1081.5,465.9 1083.5,466.2 1085.5,466.3 1087.5,465.2 1089.5,466.3 1091.5,465.4 1093.5,465.6 1095.5,466.3 1097.5,465.2 1099.5,465.2 1101.5,467.0 1103.5,465.5 1105.5,465.7 1107.5,466.5 1109.5,466.8 1111.5,464.9 1113.5,466.0 1115.5,466.3 1117.5,466.6 1119.5,465.9 1121.5,467.0 1123.5,468.2 1125.5,466.6 1127.5,467.2 1129.5,466.1 1131.5,466.6 1133.5,467.8 1135.5,466.3 1137.5,468.7 1139.5,468.9 1141.5,466.6 1143.5,469.2 1145.5,467.7 1147.5,468.9 1149.5,469.0 1151.5,467.8 1153.5,469.0 1155.5,469.1 1157.5,469.7 1159.5,468.2 1161.5,469.8 1163.5,470.5 1165.5,469.8 1167.5,469.6 1169.5,468.5 1171.5,469.7 1173.5,469.5 1175.5,470.7 1177.5,470.7 1179.5,470.6 1181.5,469.6 1183.5,471.1 1185.5,471.3 1187.5,470.1 1189.5,472.3 1191.5,471.8 1193.5,470.5 1195.5,473.0 1197.5,470.9 1199.5,471.6 1201.5,472.9 1203.5,472.8 1205.5,472.8 1207.5,473.3 1209.5,472.9 1211.5,472.7 1213.5,472.5 1215.5,472.4 1217.5,474.5 1219.5,474.8 1221.5,474.4 1223.5,475.2 1225.5,474.3 1227.5,474.3 1229.5,474.8 1231.5,476.5 1233.5,474.3 1235.5,475.9 1237.5,475.3 1239.5,477.1 1241.5,476.1 1243.5,476.3 1245.5,476.7 1247.5,477.4 1249.5,478.3 1251.5,477.3 1253.5,479.0 1255.5,477.1 1257.5,477.9 1259.5,477.6 1261.5,477.9 1263.5,480.1 1265.5,480.2 1267.5,478.9 1269.5,479.2 1271.5,480.1 1273.5,481.3 1275.5,481.8 1277.5,481.9 1279.5,481.7 1281.5,480.8 1283.5,481.8 1285.5,481.5 1287.5,482.7 1289.5,483.1 1291.5,482.4 1293.5,482.8 1295.5,484.6 1297.5,482.8 1299.5,485.3 1301.5,485.9" fill="none" stroke="#b8142c" stroke-width="1.6" stroke-linejoin="round" stroke-linecap="round" />
<line x1="1137.60" y1="514.30" x2="1175.40" y2="514.30" stroke="#111" stroke-width="1.6" />
<text x="1185.80" y="521.40" font-size="25" text-anchor="start" fill="#111" stroke="#111" stroke-width="0.3" >Laser</text>
<line x1="1139.00" y1="544.00" x2="1175.40" y2="544.00" stroke="#b8142c" stroke-width="1.8" />
<text x="1186.55" y="552.20" font-size="25" text-anchor="start" fill="#111" stroke="#111" stroke-width="0.3" >Grating</text>
</svg></body></html>
